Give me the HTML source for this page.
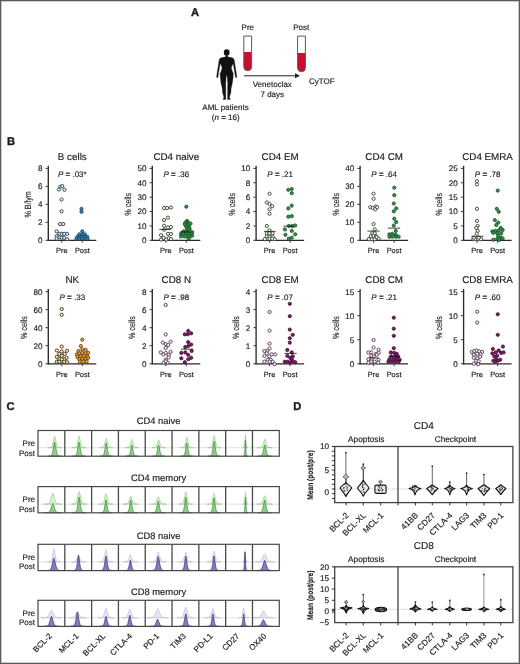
<!DOCTYPE html>
<html><head><meta charset="utf-8"><style>
html,body{margin:0;padding:0;background:#fff;}
body{width:520px;height:664px;overflow:hidden;}
svg{display:block;will-change:transform;font-family:"Liberation Sans", sans-serif;}
text{stroke:#1a1a1a;stroke-width:0.15px;text-rendering:geometricPrecision;}
</style></head><body>
<svg width="520" height="664" viewBox="0 0 520 664">
<rect x="0" y="0" width="520" height="664" fill="#fff"/>
<text x="191.00" y="16.30" font-size="11.2" text-anchor="start" font-weight="bold" font-style="normal" fill="#1a1a1a" style="stroke-width:0.35px">A</text>
<path d="M227.80,55.40 L227.90,57.00 L231.50,57.60 L233.50,58.40 L234.30,60.30 L235.00,65.00 L235.90,70.50 L236.60,75.20 L236.80,77.30 L236.00,78.00 L235.30,76.20 L234.60,71.50 L233.70,66.50 L233.20,63.40 L232.50,64.80 L231.30,67.50 L231.90,70.30 L233.20,73.30 L233.20,76.50 L232.30,83.50 L231.10,88.50 L230.90,92.50 L229.50,97.00 L230.30,99.40 L227.50,99.60 L227.60,97.00 L227.60,90.00 L227.70,84.00 L227.30,77.50 L226.70,74.80 L226.70,74.80 L226.10,77.50 L225.70,84.00 L225.80,90.00 L225.80,97.00 L225.90,99.60 L223.10,99.40 L223.90,97.00 L222.50,92.50 L222.30,88.50 L221.10,83.50 L220.20,76.50 L220.20,73.30 L221.50,70.30 L222.10,67.50 L220.90,64.80 L220.20,63.40 L219.70,66.50 L218.80,71.50 L218.10,76.20 L217.40,78.00 L216.60,77.30 L216.80,75.20 L217.50,70.50 L218.40,65.00 L219.10,60.30 L219.90,58.40 L221.90,57.60 L225.50,57.00 L225.60,55.40 Z" fill="#111" stroke="#111" stroke-width="0.3" stroke-linejoin="round"/>
<ellipse cx="226.7" cy="52.5" rx="2.85" ry="3.25" fill="#111"/>
<path d="M243.8,52 L251.60000000000002,52 L251.60000000000002,66.8 A3.9,3.9 0 0 1 243.8,66.8 Z" fill="#c8102e"/>
<path d="M243.8,36.1 L243.8,66.8 A3.9,3.9 0 0 0 251.60000000000002,66.8 L251.60000000000002,36.1 Z" fill="none" stroke="#5a5a5a" stroke-width="1"/>
<path d="M297.6,53 L305.40000000000003,53 L305.40000000000003,67.8 A3.9,3.9 0 0 1 297.6,67.8 Z" fill="#c8102e"/>
<path d="M297.6,36.1 L297.6,67.8 A3.9,3.9 0 0 0 305.40000000000003,67.8 L305.40000000000003,36.1 Z" fill="none" stroke="#5a5a5a" stroke-width="1"/>
<text x="247.80" y="30.20" font-size="8.0" text-anchor="middle" font-weight="normal" font-style="normal" fill="#1a1a1a" >Pre</text>
<text x="301.20" y="30.20" font-size="8.0" text-anchor="middle" font-weight="normal" font-style="normal" fill="#1a1a1a" >Post</text>
<line x1="244.00" y1="75.80" x2="297.00" y2="75.80" stroke="#222" stroke-width="1" />
<path d="M300,75.8 L295,73.3 L295,78.3 Z" fill="#222"/>
<text x="272.30" y="86.60" font-size="8.0" text-anchor="middle" font-weight="normal" font-style="normal" fill="#1a1a1a" >Venetoclax</text>
<text x="272.30" y="96.50" font-size="8.0" text-anchor="middle" font-weight="normal" font-style="normal" fill="#1a1a1a" >7 days</text>
<text x="309.00" y="83.50" font-size="8.0" text-anchor="start" font-weight="normal" font-style="normal" fill="#1a1a1a" >CyTOF</text>
<text x="225.50" y="109.80" font-size="8.0" text-anchor="middle" font-weight="normal" font-style="normal" fill="#1a1a1a" >AML patients</text>
<text x="225.7" y="119.9" font-size="8.0" text-anchor="middle" fill="#1a1a1a">(<tspan font-style="italic">n</tspan> = 16)</text>
<text x="6.90" y="144.50" font-size="11.2" text-anchor="start" font-weight="bold" font-style="normal" fill="#1a1a1a" style="stroke-width:0.35px">B</text>
<text x="72.30" y="159.70" font-size="9.8" text-anchor="middle" font-weight="normal" font-style="normal" fill="#1a1a1a" >B cells</text>
<line x1="48.30" y1="165.80" x2="48.30" y2="240.90" stroke="#2a2a2a" stroke-width="1.35" />
<line x1="47.70" y1="240.30" x2="96.30" y2="240.30" stroke="#2a2a2a" stroke-width="1.25" />
<line x1="45.50" y1="240.30" x2="48.30" y2="240.30" stroke="#2a2a2a" stroke-width="0.9" />
<text x="42.50" y="243.20" font-size="8.1" text-anchor="end" font-weight="normal" font-style="normal" fill="#222" >0</text>
<line x1="45.50" y1="222.33" x2="48.30" y2="222.33" stroke="#2a2a2a" stroke-width="0.9" />
<text x="42.50" y="225.23" font-size="8.1" text-anchor="end" font-weight="normal" font-style="normal" fill="#222" >2</text>
<line x1="45.50" y1="204.35" x2="48.30" y2="204.35" stroke="#2a2a2a" stroke-width="0.9" />
<text x="42.50" y="207.25" font-size="8.1" text-anchor="end" font-weight="normal" font-style="normal" fill="#222" >4</text>
<line x1="45.50" y1="186.38" x2="48.30" y2="186.38" stroke="#2a2a2a" stroke-width="0.9" />
<text x="42.50" y="189.28" font-size="8.1" text-anchor="end" font-weight="normal" font-style="normal" fill="#222" >6</text>
<line x1="45.50" y1="168.40" x2="48.30" y2="168.40" stroke="#2a2a2a" stroke-width="0.9" />
<text x="42.50" y="171.30" font-size="8.1" text-anchor="end" font-weight="normal" font-style="normal" fill="#222" >8</text>
<line x1="61.80" y1="240.30" x2="61.80" y2="242.80" stroke="#2a2a2a" stroke-width="0.9" />
<line x1="82.30" y1="240.30" x2="82.30" y2="242.80" stroke="#2a2a2a" stroke-width="0.9" />
<text x="61.80" y="253.30" font-size="7.4" text-anchor="middle" font-weight="normal" font-style="normal" fill="#1a1a1a" >Pre</text>
<text x="82.30" y="253.30" font-size="7.4" text-anchor="middle" font-weight="normal" font-style="normal" fill="#1a1a1a" >Post</text>
<text transform="translate(31.00,204.35) rotate(-90) scale(0.8,1)" font-size="9" text-anchor="middle" fill="#222">% B/lym</text>
<text x="72.30" y="177.20" font-size="8" text-anchor="middle" fill="#222"><tspan font-style="italic">P</tspan> <tspan font-weight="bold">=</tspan> .03*</text>
<circle cx="60.27" cy="186.85" r="1.6" fill="#e6f2f8" stroke="#2e4656" stroke-width="0.95"/>
<circle cx="62.23" cy="186.07" r="1.6" fill="#e6f2f8" stroke="#2e4656" stroke-width="0.95"/>
<circle cx="59.00" cy="189.49" r="1.6" fill="#e6f2f8" stroke="#2e4656" stroke-width="0.95"/>
<circle cx="64.48" cy="189.78" r="1.6" fill="#e6f2f8" stroke="#2e4656" stroke-width="0.95"/>
<circle cx="61.55" cy="199.57" r="1.6" fill="#e6f2f8" stroke="#2e4656" stroke-width="0.95"/>
<circle cx="61.55" cy="211.31" r="1.6" fill="#e6f2f8" stroke="#2e4656" stroke-width="0.95"/>
<circle cx="60.08" cy="224.03" r="1.6" fill="#e6f2f8" stroke="#2e4656" stroke-width="0.95"/>
<circle cx="63.21" cy="224.03" r="1.6" fill="#e6f2f8" stroke="#2e4656" stroke-width="0.95"/>
<circle cx="56.65" cy="231.37" r="1.6" fill="#e6f2f8" stroke="#2e4656" stroke-width="0.95"/>
<circle cx="59.30" cy="233.82" r="1.6" fill="#e6f2f8" stroke="#2e4656" stroke-width="0.95"/>
<circle cx="61.74" cy="233.82" r="1.6" fill="#e6f2f8" stroke="#2e4656" stroke-width="0.95"/>
<circle cx="64.19" cy="233.82" r="1.6" fill="#e6f2f8" stroke="#2e4656" stroke-width="0.95"/>
<circle cx="67.12" cy="233.82" r="1.6" fill="#e6f2f8" stroke="#2e4656" stroke-width="0.95"/>
<circle cx="56.65" cy="236.26" r="1.6" fill="#e6f2f8" stroke="#2e4656" stroke-width="0.95"/>
<circle cx="59.30" cy="237.24" r="1.6" fill="#e6f2f8" stroke="#2e4656" stroke-width="0.95"/>
<circle cx="61.74" cy="237.73" r="1.6" fill="#e6f2f8" stroke="#2e4656" stroke-width="0.95"/>
<circle cx="64.19" cy="237.73" r="1.6" fill="#e6f2f8" stroke="#2e4656" stroke-width="0.95"/>
<circle cx="67.12" cy="239.20" r="1.6" fill="#e6f2f8" stroke="#2e4656" stroke-width="0.95"/>
<circle cx="56.65" cy="238.71" r="1.6" fill="#e6f2f8" stroke="#2e4656" stroke-width="0.95"/>
<circle cx="81.51" cy="208.86" r="1.6" fill="#2b8cb8" stroke="#1d4258" stroke-width="0.85"/>
<circle cx="81.51" cy="211.80" r="1.6" fill="#2b8cb8" stroke="#1d4258" stroke-width="0.85"/>
<circle cx="82.29" cy="231.37" r="1.6" fill="#2b8cb8" stroke="#1d4258" stroke-width="0.85"/>
<circle cx="79.35" cy="234.31" r="1.6" fill="#2b8cb8" stroke="#1d4258" stroke-width="0.85"/>
<circle cx="82.29" cy="234.31" r="1.6" fill="#2b8cb8" stroke="#1d4258" stroke-width="0.85"/>
<circle cx="84.74" cy="234.31" r="1.6" fill="#2b8cb8" stroke="#1d4258" stroke-width="0.85"/>
<circle cx="77.40" cy="236.75" r="1.6" fill="#2b8cb8" stroke="#1d4258" stroke-width="0.85"/>
<circle cx="79.84" cy="236.75" r="1.6" fill="#2b8cb8" stroke="#1d4258" stroke-width="0.85"/>
<circle cx="82.29" cy="236.75" r="1.6" fill="#2b8cb8" stroke="#1d4258" stroke-width="0.85"/>
<circle cx="84.74" cy="236.75" r="1.6" fill="#2b8cb8" stroke="#1d4258" stroke-width="0.85"/>
<circle cx="87.18" cy="236.75" r="1.6" fill="#2b8cb8" stroke="#1d4258" stroke-width="0.85"/>
<circle cx="76.42" cy="238.71" r="1.6" fill="#2b8cb8" stroke="#1d4258" stroke-width="0.85"/>
<circle cx="79.35" cy="238.71" r="1.6" fill="#2b8cb8" stroke="#1d4258" stroke-width="0.85"/>
<circle cx="82.29" cy="238.71" r="1.6" fill="#2b8cb8" stroke="#1d4258" stroke-width="0.85"/>
<circle cx="85.23" cy="238.71" r="1.6" fill="#2b8cb8" stroke="#1d4258" stroke-width="0.85"/>
<circle cx="87.67" cy="238.71" r="1.6" fill="#2b8cb8" stroke="#1d4258" stroke-width="0.85"/>
<text x="176.30" y="159.70" font-size="9.8" text-anchor="middle" font-weight="normal" font-style="normal" fill="#1a1a1a" >CD4 naive</text>
<line x1="152.30" y1="165.80" x2="152.30" y2="240.90" stroke="#2a2a2a" stroke-width="1.35" />
<line x1="151.70" y1="240.30" x2="200.30" y2="240.30" stroke="#2a2a2a" stroke-width="1.25" />
<line x1="149.50" y1="240.30" x2="152.30" y2="240.30" stroke="#2a2a2a" stroke-width="0.9" />
<text x="146.50" y="243.20" font-size="8.1" text-anchor="end" font-weight="normal" font-style="normal" fill="#222" >0</text>
<line x1="149.50" y1="225.92" x2="152.30" y2="225.92" stroke="#2a2a2a" stroke-width="0.9" />
<text x="146.50" y="228.82" font-size="8.1" text-anchor="end" font-weight="normal" font-style="normal" fill="#222" >10</text>
<line x1="149.50" y1="211.54" x2="152.30" y2="211.54" stroke="#2a2a2a" stroke-width="0.9" />
<text x="146.50" y="214.44" font-size="8.1" text-anchor="end" font-weight="normal" font-style="normal" fill="#222" >20</text>
<line x1="149.50" y1="197.16" x2="152.30" y2="197.16" stroke="#2a2a2a" stroke-width="0.9" />
<text x="146.50" y="200.06" font-size="8.1" text-anchor="end" font-weight="normal" font-style="normal" fill="#222" >30</text>
<line x1="149.50" y1="182.78" x2="152.30" y2="182.78" stroke="#2a2a2a" stroke-width="0.9" />
<text x="146.50" y="185.68" font-size="8.1" text-anchor="end" font-weight="normal" font-style="normal" fill="#222" >40</text>
<line x1="149.50" y1="168.40" x2="152.30" y2="168.40" stroke="#2a2a2a" stroke-width="0.9" />
<text x="146.50" y="171.30" font-size="8.1" text-anchor="end" font-weight="normal" font-style="normal" fill="#222" >50</text>
<line x1="165.80" y1="240.30" x2="165.80" y2="242.80" stroke="#2a2a2a" stroke-width="0.9" />
<line x1="186.30" y1="240.30" x2="186.30" y2="242.80" stroke="#2a2a2a" stroke-width="0.9" />
<text x="165.80" y="253.30" font-size="7.4" text-anchor="middle" font-weight="normal" font-style="normal" fill="#1a1a1a" >Pre</text>
<text x="186.30" y="253.30" font-size="7.4" text-anchor="middle" font-weight="normal" font-style="normal" fill="#1a1a1a" >Post</text>
<text transform="translate(130.70,204.35) rotate(-90) scale(0.8,1)" font-size="9" text-anchor="middle" fill="#222">% cells</text>
<text x="176.30" y="177.20" font-size="8" text-anchor="middle" fill="#222"><tspan font-style="italic">P</tspan> <tspan font-weight="bold">=</tspan> .36</text>
<circle cx="164.08" cy="207.98" r="1.6" fill="#ffffff" stroke="#384a34" stroke-width="0.95"/>
<circle cx="167.11" cy="207.98" r="1.6" fill="#ffffff" stroke="#384a34" stroke-width="0.95"/>
<circle cx="171.00" cy="207.54" r="1.6" fill="#ffffff" stroke="#384a34" stroke-width="0.95"/>
<circle cx="164.08" cy="220.09" r="1.6" fill="#ffffff" stroke="#384a34" stroke-width="0.95"/>
<circle cx="167.98" cy="217.66" r="1.6" fill="#ffffff" stroke="#384a34" stroke-width="0.95"/>
<circle cx="164.08" cy="225.71" r="1.6" fill="#ffffff" stroke="#384a34" stroke-width="0.95"/>
<circle cx="164.08" cy="229.60" r="1.6" fill="#ffffff" stroke="#384a34" stroke-width="0.95"/>
<circle cx="167.98" cy="227.44" r="1.6" fill="#ffffff" stroke="#384a34" stroke-width="0.95"/>
<circle cx="171.00" cy="227.01" r="1.6" fill="#ffffff" stroke="#384a34" stroke-width="0.95"/>
<circle cx="167.98" cy="233.93" r="1.6" fill="#ffffff" stroke="#384a34" stroke-width="0.95"/>
<circle cx="171.00" cy="233.93" r="1.6" fill="#ffffff" stroke="#384a34" stroke-width="0.95"/>
<circle cx="161.06" cy="235.22" r="1.6" fill="#ffffff" stroke="#384a34" stroke-width="0.95"/>
<circle cx="161.06" cy="239.55" r="1.6" fill="#ffffff" stroke="#384a34" stroke-width="0.95"/>
<circle cx="163.65" cy="237.82" r="1.6" fill="#ffffff" stroke="#384a34" stroke-width="0.95"/>
<circle cx="166.25" cy="239.55" r="1.6" fill="#ffffff" stroke="#384a34" stroke-width="0.95"/>
<circle cx="168.84" cy="238.25" r="1.6" fill="#ffffff" stroke="#384a34" stroke-width="0.95"/>
<circle cx="171.00" cy="239.12" r="1.6" fill="#ffffff" stroke="#384a34" stroke-width="0.95"/>
<circle cx="186.31" cy="206.68" r="1.6" fill="#2f9a4a" stroke="#1c4a28" stroke-width="0.85"/>
<circle cx="187.01" cy="220.95" r="1.6" fill="#2f9a4a" stroke="#1c4a28" stroke-width="0.85"/>
<circle cx="185.28" cy="222.68" r="1.6" fill="#2f9a4a" stroke="#1c4a28" stroke-width="0.85"/>
<circle cx="188.30" cy="222.68" r="1.6" fill="#2f9a4a" stroke="#1c4a28" stroke-width="0.85"/>
<circle cx="184.84" cy="224.41" r="1.6" fill="#2f9a4a" stroke="#1c4a28" stroke-width="0.85"/>
<circle cx="187.87" cy="224.41" r="1.6" fill="#2f9a4a" stroke="#1c4a28" stroke-width="0.85"/>
<circle cx="190.47" cy="223.55" r="1.6" fill="#2f9a4a" stroke="#1c4a28" stroke-width="0.85"/>
<circle cx="186.14" cy="226.57" r="1.6" fill="#2f9a4a" stroke="#1c4a28" stroke-width="0.85"/>
<circle cx="189.17" cy="226.57" r="1.6" fill="#2f9a4a" stroke="#1c4a28" stroke-width="0.85"/>
<circle cx="187.01" cy="228.74" r="1.6" fill="#2f9a4a" stroke="#1c4a28" stroke-width="0.85"/>
<circle cx="189.60" cy="228.74" r="1.6" fill="#2f9a4a" stroke="#1c4a28" stroke-width="0.85"/>
<circle cx="183.55" cy="231.33" r="1.6" fill="#2f9a4a" stroke="#1c4a28" stroke-width="0.85"/>
<circle cx="186.14" cy="231.33" r="1.6" fill="#2f9a4a" stroke="#1c4a28" stroke-width="0.85"/>
<circle cx="189.60" cy="231.33" r="1.6" fill="#2f9a4a" stroke="#1c4a28" stroke-width="0.85"/>
<circle cx="192.20" cy="232.20" r="1.6" fill="#2f9a4a" stroke="#1c4a28" stroke-width="0.85"/>
<circle cx="180.95" cy="233.93" r="1.6" fill="#2f9a4a" stroke="#1c4a28" stroke-width="0.85"/>
<circle cx="183.55" cy="233.93" r="1.6" fill="#2f9a4a" stroke="#1c4a28" stroke-width="0.85"/>
<circle cx="186.14" cy="233.93" r="1.6" fill="#2f9a4a" stroke="#1c4a28" stroke-width="0.85"/>
<circle cx="188.74" cy="233.93" r="1.6" fill="#2f9a4a" stroke="#1c4a28" stroke-width="0.85"/>
<circle cx="191.33" cy="233.93" r="1.6" fill="#2f9a4a" stroke="#1c4a28" stroke-width="0.85"/>
<circle cx="180.95" cy="236.52" r="1.6" fill="#2f9a4a" stroke="#1c4a28" stroke-width="0.85"/>
<circle cx="184.41" cy="236.52" r="1.6" fill="#2f9a4a" stroke="#1c4a28" stroke-width="0.85"/>
<circle cx="187.01" cy="236.52" r="1.6" fill="#2f9a4a" stroke="#1c4a28" stroke-width="0.85"/>
<circle cx="189.60" cy="236.52" r="1.6" fill="#2f9a4a" stroke="#1c4a28" stroke-width="0.85"/>
<circle cx="192.20" cy="235.66" r="1.6" fill="#2f9a4a" stroke="#1c4a28" stroke-width="0.85"/>
<circle cx="188.74" cy="238.69" r="1.6" fill="#2f9a4a" stroke="#1c4a28" stroke-width="0.85"/>
<line x1="159.33" y1="229.43" x2="171.00" y2="229.43" stroke="#111" stroke-width="0.8" />
<line x1="180.09" y1="231.76" x2="189.60" y2="231.76" stroke="#111" stroke-width="0.8" />
<text x="280.10" y="159.70" font-size="9.8" text-anchor="middle" font-weight="normal" font-style="normal" fill="#1a1a1a" >CD4 EM</text>
<line x1="256.10" y1="165.80" x2="256.10" y2="240.90" stroke="#2a2a2a" stroke-width="1.35" />
<line x1="255.50" y1="240.30" x2="304.10" y2="240.30" stroke="#2a2a2a" stroke-width="1.25" />
<line x1="253.30" y1="240.30" x2="256.10" y2="240.30" stroke="#2a2a2a" stroke-width="0.9" />
<text x="250.30" y="243.20" font-size="8.1" text-anchor="end" font-weight="normal" font-style="normal" fill="#222" >0</text>
<line x1="253.30" y1="225.92" x2="256.10" y2="225.92" stroke="#2a2a2a" stroke-width="0.9" />
<text x="250.30" y="228.82" font-size="8.1" text-anchor="end" font-weight="normal" font-style="normal" fill="#222" >2</text>
<line x1="253.30" y1="211.54" x2="256.10" y2="211.54" stroke="#2a2a2a" stroke-width="0.9" />
<text x="250.30" y="214.44" font-size="8.1" text-anchor="end" font-weight="normal" font-style="normal" fill="#222" >4</text>
<line x1="253.30" y1="197.16" x2="256.10" y2="197.16" stroke="#2a2a2a" stroke-width="0.9" />
<text x="250.30" y="200.06" font-size="8.1" text-anchor="end" font-weight="normal" font-style="normal" fill="#222" >6</text>
<line x1="253.30" y1="182.78" x2="256.10" y2="182.78" stroke="#2a2a2a" stroke-width="0.9" />
<text x="250.30" y="185.68" font-size="8.1" text-anchor="end" font-weight="normal" font-style="normal" fill="#222" >8</text>
<line x1="253.30" y1="168.40" x2="256.10" y2="168.40" stroke="#2a2a2a" stroke-width="0.9" />
<text x="250.30" y="171.30" font-size="8.1" text-anchor="end" font-weight="normal" font-style="normal" fill="#222" >10</text>
<line x1="269.60" y1="240.30" x2="269.60" y2="242.80" stroke="#2a2a2a" stroke-width="0.9" />
<line x1="290.10" y1="240.30" x2="290.10" y2="242.80" stroke="#2a2a2a" stroke-width="0.9" />
<text x="269.60" y="253.30" font-size="7.4" text-anchor="middle" font-weight="normal" font-style="normal" fill="#1a1a1a" >Pre</text>
<text x="290.10" y="253.30" font-size="7.4" text-anchor="middle" font-weight="normal" font-style="normal" fill="#1a1a1a" >Post</text>
<text transform="translate(234.50,204.35) rotate(-90) scale(0.8,1)" font-size="9" text-anchor="middle" fill="#222">% cells</text>
<text x="280.10" y="177.20" font-size="8" text-anchor="middle" fill="#222"><tspan font-style="italic">P</tspan> <tspan font-weight="bold">=</tspan> .21</text>
<circle cx="269.55" cy="193.70" r="1.6" fill="#ffffff" stroke="#384a34" stroke-width="0.95"/>
<circle cx="266.81" cy="202.50" r="1.6" fill="#ffffff" stroke="#384a34" stroke-width="0.95"/>
<circle cx="269.55" cy="203.97" r="1.6" fill="#ffffff" stroke="#384a34" stroke-width="0.95"/>
<circle cx="272.19" cy="206.22" r="1.6" fill="#ffffff" stroke="#384a34" stroke-width="0.95"/>
<circle cx="269.55" cy="209.35" r="1.6" fill="#ffffff" stroke="#384a34" stroke-width="0.95"/>
<circle cx="269.55" cy="213.76" r="1.6" fill="#ffffff" stroke="#384a34" stroke-width="0.95"/>
<circle cx="266.81" cy="225.99" r="1.6" fill="#ffffff" stroke="#384a34" stroke-width="0.95"/>
<circle cx="269.55" cy="230.39" r="1.6" fill="#ffffff" stroke="#384a34" stroke-width="0.95"/>
<circle cx="266.81" cy="233.33" r="1.6" fill="#ffffff" stroke="#384a34" stroke-width="0.95"/>
<circle cx="269.55" cy="233.33" r="1.6" fill="#ffffff" stroke="#384a34" stroke-width="0.95"/>
<circle cx="272.68" cy="233.33" r="1.6" fill="#ffffff" stroke="#384a34" stroke-width="0.95"/>
<circle cx="266.81" cy="236.26" r="1.6" fill="#ffffff" stroke="#384a34" stroke-width="0.95"/>
<circle cx="269.55" cy="236.75" r="1.6" fill="#ffffff" stroke="#384a34" stroke-width="0.95"/>
<circle cx="272.68" cy="236.75" r="1.6" fill="#ffffff" stroke="#384a34" stroke-width="0.95"/>
<circle cx="264.85" cy="239.20" r="1.6" fill="#ffffff" stroke="#384a34" stroke-width="0.95"/>
<circle cx="269.55" cy="238.71" r="1.6" fill="#ffffff" stroke="#384a34" stroke-width="0.95"/>
<circle cx="274.63" cy="239.20" r="1.6" fill="#ffffff" stroke="#384a34" stroke-width="0.95"/>
<circle cx="272.19" cy="238.71" r="1.6" fill="#ffffff" stroke="#384a34" stroke-width="0.95"/>
<circle cx="288.33" cy="189.78" r="1.6" fill="#2f9a4a" stroke="#1c4a28" stroke-width="0.85"/>
<circle cx="291.76" cy="189.00" r="1.6" fill="#2f9a4a" stroke="#1c4a28" stroke-width="0.85"/>
<circle cx="291.76" cy="193.21" r="1.6" fill="#2f9a4a" stroke="#1c4a28" stroke-width="0.85"/>
<circle cx="288.33" cy="208.38" r="1.6" fill="#2f9a4a" stroke="#1c4a28" stroke-width="0.85"/>
<circle cx="291.76" cy="205.64" r="1.6" fill="#2f9a4a" stroke="#1c4a28" stroke-width="0.85"/>
<circle cx="288.33" cy="216.69" r="1.6" fill="#2f9a4a" stroke="#1c4a28" stroke-width="0.85"/>
<circle cx="291.76" cy="216.20" r="1.6" fill="#2f9a4a" stroke="#1c4a28" stroke-width="0.85"/>
<circle cx="288.82" cy="225.99" r="1.6" fill="#2f9a4a" stroke="#1c4a28" stroke-width="0.85"/>
<circle cx="292.25" cy="225.99" r="1.6" fill="#2f9a4a" stroke="#1c4a28" stroke-width="0.85"/>
<circle cx="295.18" cy="225.50" r="1.6" fill="#2f9a4a" stroke="#1c4a28" stroke-width="0.85"/>
<circle cx="284.91" cy="229.41" r="1.6" fill="#2f9a4a" stroke="#1c4a28" stroke-width="0.85"/>
<circle cx="291.76" cy="230.88" r="1.6" fill="#2f9a4a" stroke="#1c4a28" stroke-width="0.85"/>
<circle cx="285.40" cy="234.79" r="1.6" fill="#2f9a4a" stroke="#1c4a28" stroke-width="0.85"/>
<circle cx="295.18" cy="234.31" r="1.6" fill="#2f9a4a" stroke="#1c4a28" stroke-width="0.85"/>
<circle cx="288.82" cy="238.71" r="1.6" fill="#2f9a4a" stroke="#1c4a28" stroke-width="0.85"/>
<circle cx="291.76" cy="237.73" r="1.6" fill="#2f9a4a" stroke="#1c4a28" stroke-width="0.85"/>
<line x1="263.87" y1="231.37" x2="275.61" y2="231.37" stroke="#111" stroke-width="0.8" />
<line x1="283.44" y1="226.18" x2="294.20" y2="226.18" stroke="#111" stroke-width="0.8" />
<text x="384.10" y="159.70" font-size="9.8" text-anchor="middle" font-weight="normal" font-style="normal" fill="#1a1a1a" >CD4 CM</text>
<line x1="360.10" y1="165.80" x2="360.10" y2="240.90" stroke="#2a2a2a" stroke-width="1.35" />
<line x1="359.50" y1="240.30" x2="408.10" y2="240.30" stroke="#2a2a2a" stroke-width="1.25" />
<line x1="357.30" y1="240.30" x2="360.10" y2="240.30" stroke="#2a2a2a" stroke-width="0.9" />
<text x="354.30" y="243.20" font-size="8.1" text-anchor="end" font-weight="normal" font-style="normal" fill="#222" >0</text>
<line x1="357.30" y1="222.33" x2="360.10" y2="222.33" stroke="#2a2a2a" stroke-width="0.9" />
<text x="354.30" y="225.23" font-size="8.1" text-anchor="end" font-weight="normal" font-style="normal" fill="#222" >10</text>
<line x1="357.30" y1="204.35" x2="360.10" y2="204.35" stroke="#2a2a2a" stroke-width="0.9" />
<text x="354.30" y="207.25" font-size="8.1" text-anchor="end" font-weight="normal" font-style="normal" fill="#222" >20</text>
<line x1="357.30" y1="186.38" x2="360.10" y2="186.38" stroke="#2a2a2a" stroke-width="0.9" />
<text x="354.30" y="189.28" font-size="8.1" text-anchor="end" font-weight="normal" font-style="normal" fill="#222" >30</text>
<line x1="357.30" y1="168.40" x2="360.10" y2="168.40" stroke="#2a2a2a" stroke-width="0.9" />
<text x="354.30" y="171.30" font-size="8.1" text-anchor="end" font-weight="normal" font-style="normal" fill="#222" >40</text>
<line x1="373.60" y1="240.30" x2="373.60" y2="242.80" stroke="#2a2a2a" stroke-width="0.9" />
<line x1="394.10" y1="240.30" x2="394.10" y2="242.80" stroke="#2a2a2a" stroke-width="0.9" />
<text x="373.60" y="253.30" font-size="7.4" text-anchor="middle" font-weight="normal" font-style="normal" fill="#1a1a1a" >Pre</text>
<text x="394.10" y="253.30" font-size="7.4" text-anchor="middle" font-weight="normal" font-style="normal" fill="#1a1a1a" >Post</text>
<text transform="translate(338.50,204.35) rotate(-90) scale(0.8,1)" font-size="9" text-anchor="middle" fill="#222">% cells</text>
<text x="384.10" y="177.20" font-size="8" text-anchor="middle" fill="#222"><tspan font-style="italic">P</tspan> <tspan font-weight="bold">=</tspan> .64</text>
<circle cx="373.55" cy="193.70" r="1.6" fill="#ffffff" stroke="#384a34" stroke-width="0.95"/>
<circle cx="373.55" cy="198.79" r="1.6" fill="#ffffff" stroke="#384a34" stroke-width="0.95"/>
<circle cx="370.32" cy="207.20" r="1.6" fill="#ffffff" stroke="#384a34" stroke-width="0.95"/>
<circle cx="372.76" cy="207.89" r="1.6" fill="#ffffff" stroke="#384a34" stroke-width="0.95"/>
<circle cx="375.70" cy="206.61" r="1.6" fill="#ffffff" stroke="#384a34" stroke-width="0.95"/>
<circle cx="377.17" cy="207.20" r="1.6" fill="#ffffff" stroke="#384a34" stroke-width="0.95"/>
<circle cx="375.21" cy="209.35" r="1.6" fill="#ffffff" stroke="#384a34" stroke-width="0.95"/>
<circle cx="373.55" cy="224.03" r="1.6" fill="#ffffff" stroke="#384a34" stroke-width="0.95"/>
<circle cx="374.72" cy="229.41" r="1.6" fill="#ffffff" stroke="#384a34" stroke-width="0.95"/>
<circle cx="372.27" cy="233.33" r="1.6" fill="#ffffff" stroke="#384a34" stroke-width="0.95"/>
<circle cx="374.72" cy="233.33" r="1.6" fill="#ffffff" stroke="#384a34" stroke-width="0.95"/>
<circle cx="370.81" cy="236.26" r="1.6" fill="#ffffff" stroke="#384a34" stroke-width="0.95"/>
<circle cx="373.55" cy="235.77" r="1.6" fill="#ffffff" stroke="#384a34" stroke-width="0.95"/>
<circle cx="376.19" cy="236.26" r="1.6" fill="#ffffff" stroke="#384a34" stroke-width="0.95"/>
<circle cx="368.85" cy="239.20" r="1.6" fill="#ffffff" stroke="#384a34" stroke-width="0.95"/>
<circle cx="371.78" cy="239.20" r="1.6" fill="#ffffff" stroke="#384a34" stroke-width="0.95"/>
<circle cx="374.72" cy="239.20" r="1.6" fill="#ffffff" stroke="#384a34" stroke-width="0.95"/>
<circle cx="378.63" cy="238.71" r="1.6" fill="#ffffff" stroke="#384a34" stroke-width="0.95"/>
<circle cx="376.68" cy="237.24" r="1.6" fill="#ffffff" stroke="#384a34" stroke-width="0.95"/>
<circle cx="394.29" cy="187.63" r="1.6" fill="#2f9a4a" stroke="#1c4a28" stroke-width="0.85"/>
<circle cx="394.29" cy="195.17" r="1.6" fill="#2f9a4a" stroke="#1c4a28" stroke-width="0.85"/>
<circle cx="393.80" cy="203.48" r="1.6" fill="#2f9a4a" stroke="#1c4a28" stroke-width="0.85"/>
<circle cx="396.25" cy="208.38" r="1.6" fill="#2f9a4a" stroke="#1c4a28" stroke-width="0.85"/>
<circle cx="393.80" cy="211.31" r="1.6" fill="#2f9a4a" stroke="#1c4a28" stroke-width="0.85"/>
<circle cx="394.29" cy="218.65" r="1.6" fill="#2f9a4a" stroke="#1c4a28" stroke-width="0.85"/>
<circle cx="396.25" cy="222.07" r="1.6" fill="#2f9a4a" stroke="#1c4a28" stroke-width="0.85"/>
<circle cx="393.80" cy="225.50" r="1.6" fill="#2f9a4a" stroke="#1c4a28" stroke-width="0.85"/>
<circle cx="395.76" cy="230.88" r="1.6" fill="#2f9a4a" stroke="#1c4a28" stroke-width="0.85"/>
<circle cx="389.40" cy="234.31" r="1.6" fill="#2f9a4a" stroke="#1c4a28" stroke-width="0.85"/>
<circle cx="392.33" cy="233.82" r="1.6" fill="#2f9a4a" stroke="#1c4a28" stroke-width="0.85"/>
<circle cx="395.76" cy="234.79" r="1.6" fill="#2f9a4a" stroke="#1c4a28" stroke-width="0.85"/>
<circle cx="389.40" cy="236.75" r="1.6" fill="#2f9a4a" stroke="#1c4a28" stroke-width="0.85"/>
<circle cx="392.33" cy="236.75" r="1.6" fill="#2f9a4a" stroke="#1c4a28" stroke-width="0.85"/>
<circle cx="395.76" cy="236.75" r="1.6" fill="#2f9a4a" stroke="#1c4a28" stroke-width="0.85"/>
<circle cx="398.69" cy="236.75" r="1.6" fill="#2f9a4a" stroke="#1c4a28" stroke-width="0.85"/>
<line x1="367.38" y1="231.08" x2="379.61" y2="231.08" stroke="#111" stroke-width="0.8" />
<line x1="387.93" y1="228.14" x2="400.16" y2="228.14" stroke="#111" stroke-width="0.8" />
<text x="487.60" y="159.70" font-size="9.8" text-anchor="middle" font-weight="normal" font-style="normal" fill="#1a1a1a" >CD4 EMRA</text>
<line x1="463.60" y1="165.80" x2="463.60" y2="240.90" stroke="#2a2a2a" stroke-width="1.35" />
<line x1="463.00" y1="240.30" x2="511.60" y2="240.30" stroke="#2a2a2a" stroke-width="1.25" />
<line x1="460.80" y1="240.30" x2="463.60" y2="240.30" stroke="#2a2a2a" stroke-width="0.9" />
<text x="457.80" y="243.20" font-size="8.1" text-anchor="end" font-weight="normal" font-style="normal" fill="#222" >0</text>
<line x1="460.80" y1="225.92" x2="463.60" y2="225.92" stroke="#2a2a2a" stroke-width="0.9" />
<text x="457.80" y="228.82" font-size="8.1" text-anchor="end" font-weight="normal" font-style="normal" fill="#222" >5</text>
<line x1="460.80" y1="211.54" x2="463.60" y2="211.54" stroke="#2a2a2a" stroke-width="0.9" />
<text x="457.80" y="214.44" font-size="8.1" text-anchor="end" font-weight="normal" font-style="normal" fill="#222" >10</text>
<line x1="460.80" y1="197.16" x2="463.60" y2="197.16" stroke="#2a2a2a" stroke-width="0.9" />
<text x="457.80" y="200.06" font-size="8.1" text-anchor="end" font-weight="normal" font-style="normal" fill="#222" >15</text>
<line x1="460.80" y1="182.78" x2="463.60" y2="182.78" stroke="#2a2a2a" stroke-width="0.9" />
<text x="457.80" y="185.68" font-size="8.1" text-anchor="end" font-weight="normal" font-style="normal" fill="#222" >20</text>
<line x1="460.80" y1="168.40" x2="463.60" y2="168.40" stroke="#2a2a2a" stroke-width="0.9" />
<text x="457.80" y="171.30" font-size="8.1" text-anchor="end" font-weight="normal" font-style="normal" fill="#222" >25</text>
<line x1="477.10" y1="240.30" x2="477.10" y2="242.80" stroke="#2a2a2a" stroke-width="0.9" />
<line x1="497.60" y1="240.30" x2="497.60" y2="242.80" stroke="#2a2a2a" stroke-width="0.9" />
<text x="477.10" y="253.30" font-size="7.4" text-anchor="middle" font-weight="normal" font-style="normal" fill="#1a1a1a" >Pre</text>
<text x="497.60" y="253.30" font-size="7.4" text-anchor="middle" font-weight="normal" font-style="normal" fill="#1a1a1a" >Post</text>
<text transform="translate(442.00,204.35) rotate(-90) scale(0.8,1)" font-size="9" text-anchor="middle" fill="#222">% cells</text>
<text x="487.60" y="177.20" font-size="8" text-anchor="middle" fill="#222"><tspan font-style="italic">P</tspan> <tspan font-weight="bold">=</tspan> .78</text>
<circle cx="476.92" cy="181.17" r="1.6" fill="#ffffff" stroke="#384a34" stroke-width="0.95"/>
<circle cx="476.92" cy="184.40" r="1.6" fill="#ffffff" stroke="#384a34" stroke-width="0.95"/>
<circle cx="476.92" cy="208.86" r="1.6" fill="#ffffff" stroke="#384a34" stroke-width="0.95"/>
<circle cx="476.92" cy="220.90" r="1.6" fill="#ffffff" stroke="#384a34" stroke-width="0.95"/>
<circle cx="477.70" cy="225.99" r="1.6" fill="#ffffff" stroke="#384a34" stroke-width="0.95"/>
<circle cx="476.23" cy="227.95" r="1.6" fill="#ffffff" stroke="#384a34" stroke-width="0.95"/>
<circle cx="477.70" cy="230.88" r="1.6" fill="#ffffff" stroke="#384a34" stroke-width="0.95"/>
<circle cx="476.72" cy="233.62" r="1.6" fill="#ffffff" stroke="#384a34" stroke-width="0.95"/>
<circle cx="473.30" cy="239.20" r="1.6" fill="#ffffff" stroke="#384a34" stroke-width="0.95"/>
<circle cx="475.74" cy="239.20" r="1.6" fill="#ffffff" stroke="#384a34" stroke-width="0.95"/>
<circle cx="478.19" cy="239.20" r="1.6" fill="#ffffff" stroke="#384a34" stroke-width="0.95"/>
<circle cx="481.12" cy="239.20" r="1.6" fill="#ffffff" stroke="#384a34" stroke-width="0.95"/>
<circle cx="473.78" cy="237.73" r="1.6" fill="#ffffff" stroke="#384a34" stroke-width="0.95"/>
<circle cx="478.68" cy="237.73" r="1.6" fill="#ffffff" stroke="#384a34" stroke-width="0.95"/>
<circle cx="497.76" cy="190.57" r="1.6" fill="#2f9a4a" stroke="#1c4a28" stroke-width="0.85"/>
<circle cx="496.78" cy="208.86" r="1.6" fill="#2f9a4a" stroke="#1c4a28" stroke-width="0.85"/>
<circle cx="498.74" cy="211.80" r="1.6" fill="#2f9a4a" stroke="#1c4a28" stroke-width="0.85"/>
<circle cx="494.82" cy="220.12" r="1.6" fill="#2f9a4a" stroke="#1c4a28" stroke-width="0.85"/>
<circle cx="498.25" cy="222.56" r="1.6" fill="#2f9a4a" stroke="#1c4a28" stroke-width="0.85"/>
<circle cx="496.29" cy="225.01" r="1.6" fill="#2f9a4a" stroke="#1c4a28" stroke-width="0.85"/>
<circle cx="500.69" cy="227.95" r="1.6" fill="#2f9a4a" stroke="#1c4a28" stroke-width="0.85"/>
<circle cx="492.38" cy="231.37" r="1.6" fill="#2f9a4a" stroke="#1c4a28" stroke-width="0.85"/>
<circle cx="495.31" cy="230.88" r="1.6" fill="#2f9a4a" stroke="#1c4a28" stroke-width="0.85"/>
<circle cx="498.74" cy="230.39" r="1.6" fill="#2f9a4a" stroke="#1c4a28" stroke-width="0.85"/>
<circle cx="502.65" cy="229.90" r="1.6" fill="#2f9a4a" stroke="#1c4a28" stroke-width="0.85"/>
<circle cx="493.35" cy="232.84" r="1.6" fill="#2f9a4a" stroke="#1c4a28" stroke-width="0.85"/>
<circle cx="497.27" cy="233.33" r="1.6" fill="#2f9a4a" stroke="#1c4a28" stroke-width="0.85"/>
<circle cx="501.18" cy="233.33" r="1.6" fill="#2f9a4a" stroke="#1c4a28" stroke-width="0.85"/>
<circle cx="498.25" cy="235.77" r="1.6" fill="#2f9a4a" stroke="#1c4a28" stroke-width="0.85"/>
<circle cx="501.18" cy="237.73" r="1.6" fill="#2f9a4a" stroke="#1c4a28" stroke-width="0.85"/>
<circle cx="493.35" cy="239.69" r="1.6" fill="#2f9a4a" stroke="#1c4a28" stroke-width="0.85"/>
<circle cx="497.27" cy="238.71" r="1.6" fill="#2f9a4a" stroke="#1c4a28" stroke-width="0.85"/>
<circle cx="502.65" cy="238.51" r="1.6" fill="#2f9a4a" stroke="#1c4a28" stroke-width="0.85"/>
<circle cx="499.23" cy="239.88" r="1.6" fill="#2f9a4a" stroke="#1c4a28" stroke-width="0.85"/>
<line x1="471.34" y1="236.26" x2="483.57" y2="236.26" stroke="#111" stroke-width="0.8" />
<text x="72.30" y="283.15" font-size="9.8" text-anchor="middle" font-weight="normal" font-style="normal" fill="#1a1a1a" >NK</text>
<line x1="48.30" y1="289.00" x2="48.30" y2="364.35" stroke="#2a2a2a" stroke-width="1.35" />
<line x1="47.70" y1="363.75" x2="96.30" y2="363.75" stroke="#2a2a2a" stroke-width="1.25" />
<line x1="45.50" y1="363.75" x2="48.30" y2="363.75" stroke="#2a2a2a" stroke-width="0.9" />
<text x="42.50" y="366.65" font-size="8.1" text-anchor="end" font-weight="normal" font-style="normal" fill="#222" >0</text>
<line x1="45.50" y1="345.71" x2="48.30" y2="345.71" stroke="#2a2a2a" stroke-width="0.9" />
<text x="42.50" y="348.61" font-size="8.1" text-anchor="end" font-weight="normal" font-style="normal" fill="#222" >20</text>
<line x1="45.50" y1="327.68" x2="48.30" y2="327.68" stroke="#2a2a2a" stroke-width="0.9" />
<text x="42.50" y="330.57" font-size="8.1" text-anchor="end" font-weight="normal" font-style="normal" fill="#222" >40</text>
<line x1="45.50" y1="309.64" x2="48.30" y2="309.64" stroke="#2a2a2a" stroke-width="0.9" />
<text x="42.50" y="312.54" font-size="8.1" text-anchor="end" font-weight="normal" font-style="normal" fill="#222" >60</text>
<line x1="45.50" y1="291.60" x2="48.30" y2="291.60" stroke="#2a2a2a" stroke-width="0.9" />
<text x="42.50" y="294.50" font-size="8.1" text-anchor="end" font-weight="normal" font-style="normal" fill="#222" >80</text>
<line x1="61.80" y1="363.75" x2="61.80" y2="366.25" stroke="#2a2a2a" stroke-width="0.9" />
<line x1="82.30" y1="363.75" x2="82.30" y2="366.25" stroke="#2a2a2a" stroke-width="0.9" />
<text x="61.80" y="376.75" font-size="7.4" text-anchor="middle" font-weight="normal" font-style="normal" fill="#1a1a1a" >Pre</text>
<text x="82.30" y="376.75" font-size="7.4" text-anchor="middle" font-weight="normal" font-style="normal" fill="#1a1a1a" >Post</text>
<text transform="translate(26.70,327.68) rotate(-90) scale(0.8,1)" font-size="9" text-anchor="middle" fill="#222">% cells</text>
<text x="72.30" y="300.40" font-size="8" text-anchor="middle" fill="#222"><tspan font-style="italic">P</tspan> <tspan font-weight="bold">=</tspan> .33</text>
<circle cx="61.74" cy="309.07" r="1.6" fill="#fdf0c8" stroke="#4a3820" stroke-width="0.95"/>
<circle cx="61.74" cy="314.74" r="1.6" fill="#fdf0c8" stroke="#4a3820" stroke-width="0.95"/>
<circle cx="61.74" cy="346.54" r="1.6" fill="#fdf0c8" stroke="#4a3820" stroke-width="0.95"/>
<circle cx="56.85" cy="350.46" r="1.6" fill="#fdf0c8" stroke="#4a3820" stroke-width="0.95"/>
<circle cx="67.12" cy="350.75" r="1.6" fill="#fdf0c8" stroke="#4a3820" stroke-width="0.95"/>
<circle cx="61.74" cy="351.43" r="1.6" fill="#fdf0c8" stroke="#4a3820" stroke-width="0.95"/>
<circle cx="59.30" cy="353.88" r="1.6" fill="#fdf0c8" stroke="#4a3820" stroke-width="0.95"/>
<circle cx="64.68" cy="353.88" r="1.6" fill="#fdf0c8" stroke="#4a3820" stroke-width="0.95"/>
<circle cx="56.85" cy="356.82" r="1.6" fill="#fdf0c8" stroke="#4a3820" stroke-width="0.95"/>
<circle cx="61.74" cy="355.84" r="1.6" fill="#fdf0c8" stroke="#4a3820" stroke-width="0.95"/>
<circle cx="66.63" cy="357.79" r="1.6" fill="#fdf0c8" stroke="#4a3820" stroke-width="0.95"/>
<circle cx="59.30" cy="358.77" r="1.6" fill="#fdf0c8" stroke="#4a3820" stroke-width="0.95"/>
<circle cx="64.19" cy="359.26" r="1.6" fill="#fdf0c8" stroke="#4a3820" stroke-width="0.95"/>
<circle cx="56.85" cy="361.71" r="1.6" fill="#fdf0c8" stroke="#4a3820" stroke-width="0.95"/>
<circle cx="59.30" cy="361.71" r="1.6" fill="#fdf0c8" stroke="#4a3820" stroke-width="0.95"/>
<circle cx="61.74" cy="361.22" r="1.6" fill="#fdf0c8" stroke="#4a3820" stroke-width="0.95"/>
<circle cx="64.19" cy="361.71" r="1.6" fill="#fdf0c8" stroke="#4a3820" stroke-width="0.95"/>
<circle cx="67.12" cy="362.20" r="1.6" fill="#fdf0c8" stroke="#4a3820" stroke-width="0.95"/>
<circle cx="61.74" cy="359.26" r="1.6" fill="#fdf0c8" stroke="#4a3820" stroke-width="0.95"/>
<circle cx="82.29" cy="339.69" r="1.6" fill="#f2a530" stroke="#5a3a10" stroke-width="0.85"/>
<circle cx="80.82" cy="346.05" r="1.6" fill="#f2a530" stroke="#5a3a10" stroke-width="0.85"/>
<circle cx="78.38" cy="350.95" r="1.6" fill="#f2a530" stroke="#5a3a10" stroke-width="0.85"/>
<circle cx="82.29" cy="349.48" r="1.6" fill="#f2a530" stroke="#5a3a10" stroke-width="0.85"/>
<circle cx="85.71" cy="349.77" r="1.6" fill="#f2a530" stroke="#5a3a10" stroke-width="0.85"/>
<circle cx="76.91" cy="354.37" r="1.6" fill="#f2a530" stroke="#5a3a10" stroke-width="0.85"/>
<circle cx="79.35" cy="353.39" r="1.6" fill="#f2a530" stroke="#5a3a10" stroke-width="0.85"/>
<circle cx="82.29" cy="352.90" r="1.6" fill="#f2a530" stroke="#5a3a10" stroke-width="0.85"/>
<circle cx="85.23" cy="353.39" r="1.6" fill="#f2a530" stroke="#5a3a10" stroke-width="0.85"/>
<circle cx="88.16" cy="352.90" r="1.6" fill="#f2a530" stroke="#5a3a10" stroke-width="0.85"/>
<circle cx="77.40" cy="356.82" r="1.6" fill="#f2a530" stroke="#5a3a10" stroke-width="0.85"/>
<circle cx="80.33" cy="356.33" r="1.6" fill="#f2a530" stroke="#5a3a10" stroke-width="0.85"/>
<circle cx="83.76" cy="355.84" r="1.6" fill="#f2a530" stroke="#5a3a10" stroke-width="0.85"/>
<circle cx="87.18" cy="356.33" r="1.6" fill="#f2a530" stroke="#5a3a10" stroke-width="0.85"/>
<circle cx="79.35" cy="359.26" r="1.6" fill="#f2a530" stroke="#5a3a10" stroke-width="0.85"/>
<circle cx="82.29" cy="358.77" r="1.6" fill="#f2a530" stroke="#5a3a10" stroke-width="0.85"/>
<circle cx="85.71" cy="358.77" r="1.6" fill="#f2a530" stroke="#5a3a10" stroke-width="0.85"/>
<circle cx="88.16" cy="357.79" r="1.6" fill="#f2a530" stroke="#5a3a10" stroke-width="0.85"/>
<circle cx="79.84" cy="361.71" r="1.6" fill="#f2a530" stroke="#5a3a10" stroke-width="0.85"/>
<circle cx="83.27" cy="361.71" r="1.6" fill="#f2a530" stroke="#5a3a10" stroke-width="0.85"/>
<circle cx="86.69" cy="361.51" r="1.6" fill="#f2a530" stroke="#5a3a10" stroke-width="0.85"/>
<text x="176.30" y="283.15" font-size="9.8" text-anchor="middle" font-weight="normal" font-style="normal" fill="#1a1a1a" >CD8 N</text>
<line x1="152.30" y1="289.00" x2="152.30" y2="364.35" stroke="#2a2a2a" stroke-width="1.35" />
<line x1="151.70" y1="363.75" x2="200.30" y2="363.75" stroke="#2a2a2a" stroke-width="1.25" />
<line x1="149.50" y1="363.75" x2="152.30" y2="363.75" stroke="#2a2a2a" stroke-width="0.9" />
<text x="146.50" y="366.65" font-size="8.1" text-anchor="end" font-weight="normal" font-style="normal" fill="#222" >0</text>
<line x1="149.50" y1="345.71" x2="152.30" y2="345.71" stroke="#2a2a2a" stroke-width="0.9" />
<text x="146.50" y="348.61" font-size="8.1" text-anchor="end" font-weight="normal" font-style="normal" fill="#222" >2</text>
<line x1="149.50" y1="327.68" x2="152.30" y2="327.68" stroke="#2a2a2a" stroke-width="0.9" />
<text x="146.50" y="330.57" font-size="8.1" text-anchor="end" font-weight="normal" font-style="normal" fill="#222" >4</text>
<line x1="149.50" y1="309.64" x2="152.30" y2="309.64" stroke="#2a2a2a" stroke-width="0.9" />
<text x="146.50" y="312.54" font-size="8.1" text-anchor="end" font-weight="normal" font-style="normal" fill="#222" >6</text>
<line x1="149.50" y1="291.60" x2="152.30" y2="291.60" stroke="#2a2a2a" stroke-width="0.9" />
<text x="146.50" y="294.50" font-size="8.1" text-anchor="end" font-weight="normal" font-style="normal" fill="#222" >8</text>
<line x1="165.80" y1="363.75" x2="165.80" y2="366.25" stroke="#2a2a2a" stroke-width="0.9" />
<line x1="186.30" y1="363.75" x2="186.30" y2="366.25" stroke="#2a2a2a" stroke-width="0.9" />
<text x="165.80" y="376.75" font-size="7.4" text-anchor="middle" font-weight="normal" font-style="normal" fill="#1a1a1a" >Pre</text>
<text x="186.30" y="376.75" font-size="7.4" text-anchor="middle" font-weight="normal" font-style="normal" fill="#1a1a1a" >Post</text>
<text transform="translate(135.00,327.68) rotate(-90) scale(0.8,1)" font-size="9" text-anchor="middle" fill="#222">% cells</text>
<text x="176.30" y="300.40" font-size="8" text-anchor="middle" fill="#222"><tspan font-style="italic">P</tspan> <tspan font-weight="bold">=</tspan> .98</text>
<circle cx="165.72" cy="304.96" r="1.6" fill="#fbf4fa" stroke="#5a3e58" stroke-width="0.95"/>
<circle cx="165.72" cy="334.51" r="1.6" fill="#fbf4fa" stroke="#5a3e58" stroke-width="0.95"/>
<circle cx="162.78" cy="342.63" r="1.6" fill="#fbf4fa" stroke="#5a3e58" stroke-width="0.95"/>
<circle cx="165.72" cy="344.10" r="1.6" fill="#fbf4fa" stroke="#5a3e58" stroke-width="0.95"/>
<circle cx="170.61" cy="341.65" r="1.6" fill="#fbf4fa" stroke="#5a3e58" stroke-width="0.95"/>
<circle cx="168.17" cy="345.07" r="1.6" fill="#fbf4fa" stroke="#5a3e58" stroke-width="0.95"/>
<circle cx="165.72" cy="348.01" r="1.6" fill="#fbf4fa" stroke="#5a3e58" stroke-width="0.95"/>
<circle cx="160.83" cy="352.41" r="1.6" fill="#fbf4fa" stroke="#5a3e58" stroke-width="0.95"/>
<circle cx="163.27" cy="354.37" r="1.6" fill="#fbf4fa" stroke="#5a3e58" stroke-width="0.95"/>
<circle cx="165.72" cy="352.90" r="1.6" fill="#fbf4fa" stroke="#5a3e58" stroke-width="0.95"/>
<circle cx="170.61" cy="351.92" r="1.6" fill="#fbf4fa" stroke="#5a3e58" stroke-width="0.95"/>
<circle cx="168.66" cy="354.86" r="1.6" fill="#fbf4fa" stroke="#5a3e58" stroke-width="0.95"/>
<circle cx="168.66" cy="357.31" r="1.6" fill="#fbf4fa" stroke="#5a3e58" stroke-width="0.95"/>
<circle cx="165.72" cy="359.75" r="1.6" fill="#fbf4fa" stroke="#5a3e58" stroke-width="0.95"/>
<circle cx="163.76" cy="362.69" r="1.6" fill="#fbf4fa" stroke="#5a3e58" stroke-width="0.95"/>
<circle cx="167.68" cy="362.69" r="1.6" fill="#fbf4fa" stroke="#5a3e58" stroke-width="0.95"/>
<circle cx="165.72" cy="361.22" r="1.6" fill="#fbf4fa" stroke="#5a3e58" stroke-width="0.95"/>
<circle cx="188.23" cy="330.89" r="1.6" fill="#8a186a" stroke="#3a0f32" stroke-width="0.85"/>
<circle cx="184.80" cy="334.31" r="1.6" fill="#8a186a" stroke="#3a0f32" stroke-width="0.85"/>
<circle cx="187.74" cy="334.31" r="1.6" fill="#8a186a" stroke="#3a0f32" stroke-width="0.85"/>
<circle cx="191.16" cy="333.33" r="1.6" fill="#8a186a" stroke="#3a0f32" stroke-width="0.85"/>
<circle cx="188.23" cy="342.14" r="1.6" fill="#8a186a" stroke="#3a0f32" stroke-width="0.85"/>
<circle cx="191.16" cy="344.59" r="1.6" fill="#8a186a" stroke="#3a0f32" stroke-width="0.85"/>
<circle cx="185.29" cy="347.03" r="1.6" fill="#8a186a" stroke="#3a0f32" stroke-width="0.85"/>
<circle cx="188.23" cy="346.05" r="1.6" fill="#8a186a" stroke="#3a0f32" stroke-width="0.85"/>
<circle cx="191.65" cy="350.95" r="1.6" fill="#8a186a" stroke="#3a0f32" stroke-width="0.85"/>
<circle cx="181.38" cy="352.90" r="1.6" fill="#8a186a" stroke="#3a0f32" stroke-width="0.85"/>
<circle cx="185.29" cy="352.41" r="1.6" fill="#8a186a" stroke="#3a0f32" stroke-width="0.85"/>
<circle cx="188.23" cy="354.86" r="1.6" fill="#8a186a" stroke="#3a0f32" stroke-width="0.85"/>
<circle cx="181.38" cy="358.28" r="1.6" fill="#8a186a" stroke="#3a0f32" stroke-width="0.85"/>
<circle cx="188.23" cy="359.26" r="1.6" fill="#8a186a" stroke="#3a0f32" stroke-width="0.85"/>
<circle cx="191.16" cy="357.79" r="1.6" fill="#8a186a" stroke="#3a0f32" stroke-width="0.85"/>
<circle cx="184.80" cy="362.20" r="1.6" fill="#8a186a" stroke="#3a0f32" stroke-width="0.85"/>
<line x1="180.89" y1="349.18" x2="193.12" y2="349.18" stroke="#111" stroke-width="0.8" />
<text x="280.10" y="283.15" font-size="9.8" text-anchor="middle" font-weight="normal" font-style="normal" fill="#1a1a1a" >CD8 EM</text>
<line x1="256.10" y1="289.00" x2="256.10" y2="364.35" stroke="#2a2a2a" stroke-width="1.35" />
<line x1="255.50" y1="363.75" x2="304.10" y2="363.75" stroke="#2a2a2a" stroke-width="1.25" />
<line x1="253.30" y1="363.75" x2="256.10" y2="363.75" stroke="#2a2a2a" stroke-width="0.9" />
<text x="250.30" y="366.65" font-size="8.1" text-anchor="end" font-weight="normal" font-style="normal" fill="#222" >0</text>
<line x1="253.30" y1="345.71" x2="256.10" y2="345.71" stroke="#2a2a2a" stroke-width="0.9" />
<text x="250.30" y="348.61" font-size="8.1" text-anchor="end" font-weight="normal" font-style="normal" fill="#222" >1</text>
<line x1="253.30" y1="327.68" x2="256.10" y2="327.68" stroke="#2a2a2a" stroke-width="0.9" />
<text x="250.30" y="330.57" font-size="8.1" text-anchor="end" font-weight="normal" font-style="normal" fill="#222" >2</text>
<line x1="253.30" y1="309.64" x2="256.10" y2="309.64" stroke="#2a2a2a" stroke-width="0.9" />
<text x="250.30" y="312.54" font-size="8.1" text-anchor="end" font-weight="normal" font-style="normal" fill="#222" >3</text>
<line x1="253.30" y1="291.60" x2="256.10" y2="291.60" stroke="#2a2a2a" stroke-width="0.9" />
<text x="250.30" y="294.50" font-size="8.1" text-anchor="end" font-weight="normal" font-style="normal" fill="#222" >4</text>
<line x1="269.60" y1="363.75" x2="269.60" y2="366.25" stroke="#2a2a2a" stroke-width="0.9" />
<line x1="290.10" y1="363.75" x2="290.10" y2="366.25" stroke="#2a2a2a" stroke-width="0.9" />
<text x="269.60" y="376.75" font-size="7.4" text-anchor="middle" font-weight="normal" font-style="normal" fill="#1a1a1a" >Pre</text>
<text x="290.10" y="376.75" font-size="7.4" text-anchor="middle" font-weight="normal" font-style="normal" fill="#1a1a1a" >Post</text>
<text transform="translate(238.80,327.68) rotate(-90) scale(0.8,1)" font-size="9" text-anchor="middle" fill="#222">% cells</text>
<text x="280.10" y="300.40" font-size="8" text-anchor="middle" fill="#222"><tspan font-style="italic">P</tspan> <tspan font-weight="bold">=</tspan> .07</text>
<circle cx="269.55" cy="312.00" r="1.6" fill="#fbf4fa" stroke="#5a3e58" stroke-width="0.95"/>
<circle cx="269.55" cy="330.59" r="1.6" fill="#fbf4fa" stroke="#5a3e58" stroke-width="0.95"/>
<circle cx="269.55" cy="343.61" r="1.6" fill="#fbf4fa" stroke="#5a3e58" stroke-width="0.95"/>
<circle cx="269.55" cy="348.50" r="1.6" fill="#fbf4fa" stroke="#5a3e58" stroke-width="0.95"/>
<circle cx="267.30" cy="350.95" r="1.6" fill="#fbf4fa" stroke="#5a3e58" stroke-width="0.95"/>
<circle cx="264.36" cy="350.95" r="1.6" fill="#fbf4fa" stroke="#5a3e58" stroke-width="0.95"/>
<circle cx="266.81" cy="353.39" r="1.6" fill="#fbf4fa" stroke="#5a3e58" stroke-width="0.95"/>
<circle cx="264.36" cy="355.84" r="1.6" fill="#fbf4fa" stroke="#5a3e58" stroke-width="0.95"/>
<circle cx="271.70" cy="354.37" r="1.6" fill="#fbf4fa" stroke="#5a3e58" stroke-width="0.95"/>
<circle cx="275.12" cy="354.37" r="1.6" fill="#fbf4fa" stroke="#5a3e58" stroke-width="0.95"/>
<circle cx="269.25" cy="356.33" r="1.6" fill="#fbf4fa" stroke="#5a3e58" stroke-width="0.95"/>
<circle cx="267.78" cy="359.75" r="1.6" fill="#fbf4fa" stroke="#5a3e58" stroke-width="0.95"/>
<circle cx="270.72" cy="359.75" r="1.6" fill="#fbf4fa" stroke="#5a3e58" stroke-width="0.95"/>
<circle cx="264.36" cy="361.71" r="1.6" fill="#fbf4fa" stroke="#5a3e58" stroke-width="0.95"/>
<circle cx="272.68" cy="361.71" r="1.6" fill="#fbf4fa" stroke="#5a3e58" stroke-width="0.95"/>
<circle cx="274.63" cy="364.15" r="1.6" fill="#fbf4fa" stroke="#5a3e58" stroke-width="0.95"/>
<circle cx="269.74" cy="361.71" r="1.6" fill="#fbf4fa" stroke="#5a3e58" stroke-width="0.95"/>
<circle cx="289.80" cy="303.78" r="1.6" fill="#8a186a" stroke="#3a0f32" stroke-width="0.85"/>
<circle cx="289.80" cy="316.21" r="1.6" fill="#8a186a" stroke="#3a0f32" stroke-width="0.85"/>
<circle cx="289.80" cy="329.61" r="1.6" fill="#8a186a" stroke="#3a0f32" stroke-width="0.85"/>
<circle cx="292.74" cy="334.80" r="1.6" fill="#8a186a" stroke="#3a0f32" stroke-width="0.85"/>
<circle cx="289.80" cy="338.23" r="1.6" fill="#8a186a" stroke="#3a0f32" stroke-width="0.85"/>
<circle cx="289.80" cy="342.63" r="1.6" fill="#8a186a" stroke="#3a0f32" stroke-width="0.85"/>
<circle cx="287.35" cy="349.97" r="1.6" fill="#8a186a" stroke="#3a0f32" stroke-width="0.85"/>
<circle cx="291.76" cy="352.41" r="1.6" fill="#8a186a" stroke="#3a0f32" stroke-width="0.85"/>
<circle cx="287.35" cy="355.84" r="1.6" fill="#8a186a" stroke="#3a0f32" stroke-width="0.85"/>
<circle cx="292.74" cy="356.33" r="1.6" fill="#8a186a" stroke="#3a0f32" stroke-width="0.85"/>
<circle cx="290.29" cy="357.79" r="1.6" fill="#8a186a" stroke="#3a0f32" stroke-width="0.85"/>
<circle cx="291.76" cy="359.26" r="1.6" fill="#8a186a" stroke="#3a0f32" stroke-width="0.85"/>
<circle cx="284.91" cy="361.71" r="1.6" fill="#8a186a" stroke="#3a0f32" stroke-width="0.85"/>
<circle cx="287.84" cy="361.71" r="1.6" fill="#8a186a" stroke="#3a0f32" stroke-width="0.85"/>
<circle cx="292.25" cy="361.22" r="1.6" fill="#8a186a" stroke="#3a0f32" stroke-width="0.85"/>
<circle cx="295.18" cy="362.20" r="1.6" fill="#8a186a" stroke="#3a0f32" stroke-width="0.85"/>
<circle cx="290.29" cy="362.69" r="1.6" fill="#8a186a" stroke="#3a0f32" stroke-width="0.85"/>
<line x1="284.42" y1="353.39" x2="296.65" y2="353.39" stroke="#111" stroke-width="0.8" />
<text x="384.10" y="283.15" font-size="9.8" text-anchor="middle" font-weight="normal" font-style="normal" fill="#1a1a1a" >CD8 CM</text>
<line x1="360.10" y1="289.00" x2="360.10" y2="364.35" stroke="#2a2a2a" stroke-width="1.35" />
<line x1="359.50" y1="363.75" x2="408.10" y2="363.75" stroke="#2a2a2a" stroke-width="1.25" />
<line x1="357.30" y1="363.75" x2="360.10" y2="363.75" stroke="#2a2a2a" stroke-width="0.9" />
<text x="354.30" y="366.65" font-size="8.1" text-anchor="end" font-weight="normal" font-style="normal" fill="#222" >0</text>
<line x1="357.30" y1="339.70" x2="360.10" y2="339.70" stroke="#2a2a2a" stroke-width="0.9" />
<text x="354.30" y="342.60" font-size="8.1" text-anchor="end" font-weight="normal" font-style="normal" fill="#222" >5</text>
<line x1="357.30" y1="315.65" x2="360.10" y2="315.65" stroke="#2a2a2a" stroke-width="0.9" />
<text x="354.30" y="318.55" font-size="8.1" text-anchor="end" font-weight="normal" font-style="normal" fill="#222" >10</text>
<line x1="357.30" y1="291.60" x2="360.10" y2="291.60" stroke="#2a2a2a" stroke-width="0.9" />
<text x="354.30" y="294.50" font-size="8.1" text-anchor="end" font-weight="normal" font-style="normal" fill="#222" >15</text>
<line x1="373.60" y1="363.75" x2="373.60" y2="366.25" stroke="#2a2a2a" stroke-width="0.9" />
<line x1="394.10" y1="363.75" x2="394.10" y2="366.25" stroke="#2a2a2a" stroke-width="0.9" />
<text x="373.60" y="376.75" font-size="7.4" text-anchor="middle" font-weight="normal" font-style="normal" fill="#1a1a1a" >Pre</text>
<text x="394.10" y="376.75" font-size="7.4" text-anchor="middle" font-weight="normal" font-style="normal" fill="#1a1a1a" >Post</text>
<text transform="translate(338.50,327.68) rotate(-90) scale(0.8,1)" font-size="9" text-anchor="middle" fill="#222">% cells</text>
<text x="384.10" y="300.40" font-size="8" text-anchor="middle" fill="#222"><tspan font-style="italic">P</tspan> <tspan font-weight="bold">=</tspan> .21</text>
<circle cx="373.55" cy="339.99" r="1.6" fill="#fbf4fa" stroke="#5a3e58" stroke-width="0.95"/>
<circle cx="373.55" cy="347.52" r="1.6" fill="#fbf4fa" stroke="#5a3e58" stroke-width="0.95"/>
<circle cx="378.63" cy="349.77" r="1.6" fill="#fbf4fa" stroke="#5a3e58" stroke-width="0.95"/>
<circle cx="368.36" cy="352.41" r="1.6" fill="#fbf4fa" stroke="#5a3e58" stroke-width="0.95"/>
<circle cx="371.30" cy="352.41" r="1.6" fill="#fbf4fa" stroke="#5a3e58" stroke-width="0.95"/>
<circle cx="376.19" cy="353.88" r="1.6" fill="#fbf4fa" stroke="#5a3e58" stroke-width="0.95"/>
<circle cx="378.63" cy="352.90" r="1.6" fill="#fbf4fa" stroke="#5a3e58" stroke-width="0.95"/>
<circle cx="371.30" cy="355.84" r="1.6" fill="#fbf4fa" stroke="#5a3e58" stroke-width="0.95"/>
<circle cx="373.74" cy="356.33" r="1.6" fill="#fbf4fa" stroke="#5a3e58" stroke-width="0.95"/>
<circle cx="376.68" cy="354.86" r="1.6" fill="#fbf4fa" stroke="#5a3e58" stroke-width="0.95"/>
<circle cx="368.36" cy="359.26" r="1.6" fill="#fbf4fa" stroke="#5a3e58" stroke-width="0.95"/>
<circle cx="371.78" cy="358.77" r="1.6" fill="#fbf4fa" stroke="#5a3e58" stroke-width="0.95"/>
<circle cx="378.63" cy="359.75" r="1.6" fill="#fbf4fa" stroke="#5a3e58" stroke-width="0.95"/>
<circle cx="368.36" cy="362.69" r="1.6" fill="#fbf4fa" stroke="#5a3e58" stroke-width="0.95"/>
<circle cx="371.30" cy="361.71" r="1.6" fill="#fbf4fa" stroke="#5a3e58" stroke-width="0.95"/>
<circle cx="374.72" cy="361.71" r="1.6" fill="#fbf4fa" stroke="#5a3e58" stroke-width="0.95"/>
<circle cx="378.14" cy="362.69" r="1.6" fill="#fbf4fa" stroke="#5a3e58" stroke-width="0.95"/>
<circle cx="393.80" cy="317.68" r="1.6" fill="#8a186a" stroke="#3a0f32" stroke-width="0.85"/>
<circle cx="393.80" cy="328.64" r="1.6" fill="#8a186a" stroke="#3a0f32" stroke-width="0.85"/>
<circle cx="393.80" cy="335.78" r="1.6" fill="#8a186a" stroke="#3a0f32" stroke-width="0.85"/>
<circle cx="393.80" cy="348.21" r="1.6" fill="#8a186a" stroke="#3a0f32" stroke-width="0.85"/>
<circle cx="390.86" cy="352.41" r="1.6" fill="#8a186a" stroke="#3a0f32" stroke-width="0.85"/>
<circle cx="394.29" cy="352.90" r="1.6" fill="#8a186a" stroke="#3a0f32" stroke-width="0.85"/>
<circle cx="396.74" cy="353.88" r="1.6" fill="#8a186a" stroke="#3a0f32" stroke-width="0.85"/>
<circle cx="391.35" cy="356.33" r="1.6" fill="#8a186a" stroke="#3a0f32" stroke-width="0.85"/>
<circle cx="395.27" cy="356.33" r="1.6" fill="#8a186a" stroke="#3a0f32" stroke-width="0.85"/>
<circle cx="398.20" cy="356.82" r="1.6" fill="#8a186a" stroke="#3a0f32" stroke-width="0.85"/>
<circle cx="389.40" cy="359.26" r="1.6" fill="#8a186a" stroke="#3a0f32" stroke-width="0.85"/>
<circle cx="393.31" cy="359.26" r="1.6" fill="#8a186a" stroke="#3a0f32" stroke-width="0.85"/>
<circle cx="396.74" cy="359.26" r="1.6" fill="#8a186a" stroke="#3a0f32" stroke-width="0.85"/>
<circle cx="399.67" cy="359.75" r="1.6" fill="#8a186a" stroke="#3a0f32" stroke-width="0.85"/>
<circle cx="388.42" cy="361.71" r="1.6" fill="#8a186a" stroke="#3a0f32" stroke-width="0.85"/>
<circle cx="391.84" cy="361.71" r="1.6" fill="#8a186a" stroke="#3a0f32" stroke-width="0.85"/>
<circle cx="395.27" cy="361.71" r="1.6" fill="#8a186a" stroke="#3a0f32" stroke-width="0.85"/>
<circle cx="398.69" cy="361.71" r="1.6" fill="#8a186a" stroke="#3a0f32" stroke-width="0.85"/>
<line x1="368.85" y1="357.99" x2="378.63" y2="357.99" stroke="#111" stroke-width="0.8" />
<line x1="388.42" y1="356.33" x2="400.16" y2="356.33" stroke="#111" stroke-width="0.8" />
<text x="487.60" y="283.15" font-size="9.8" text-anchor="middle" font-weight="normal" font-style="normal" fill="#1a1a1a" >CD8 EMRA</text>
<line x1="463.60" y1="289.00" x2="463.60" y2="364.35" stroke="#2a2a2a" stroke-width="1.35" />
<line x1="463.00" y1="363.75" x2="511.60" y2="363.75" stroke="#2a2a2a" stroke-width="1.25" />
<line x1="460.80" y1="363.75" x2="463.60" y2="363.75" stroke="#2a2a2a" stroke-width="0.9" />
<text x="457.80" y="366.65" font-size="8.1" text-anchor="end" font-weight="normal" font-style="normal" fill="#222" >0</text>
<line x1="460.80" y1="339.70" x2="463.60" y2="339.70" stroke="#2a2a2a" stroke-width="0.9" />
<text x="457.80" y="342.60" font-size="8.1" text-anchor="end" font-weight="normal" font-style="normal" fill="#222" >5</text>
<line x1="460.80" y1="315.65" x2="463.60" y2="315.65" stroke="#2a2a2a" stroke-width="0.9" />
<text x="457.80" y="318.55" font-size="8.1" text-anchor="end" font-weight="normal" font-style="normal" fill="#222" >10</text>
<line x1="460.80" y1="291.60" x2="463.60" y2="291.60" stroke="#2a2a2a" stroke-width="0.9" />
<text x="457.80" y="294.50" font-size="8.1" text-anchor="end" font-weight="normal" font-style="normal" fill="#222" >15</text>
<line x1="477.10" y1="363.75" x2="477.10" y2="366.25" stroke="#2a2a2a" stroke-width="0.9" />
<line x1="497.60" y1="363.75" x2="497.60" y2="366.25" stroke="#2a2a2a" stroke-width="0.9" />
<text x="477.10" y="376.75" font-size="7.4" text-anchor="middle" font-weight="normal" font-style="normal" fill="#1a1a1a" >Pre</text>
<text x="497.60" y="376.75" font-size="7.4" text-anchor="middle" font-weight="normal" font-style="normal" fill="#1a1a1a" >Post</text>
<text transform="translate(442.00,327.68) rotate(-90) scale(0.8,1)" font-size="9" text-anchor="middle" fill="#222">% cells</text>
<text x="487.60" y="300.40" font-size="8" text-anchor="middle" fill="#222"><tspan font-style="italic">P</tspan> <tspan font-weight="bold">=</tspan> .60</text>
<circle cx="477.21" cy="311.81" r="1.6" fill="#fbf4fa" stroke="#5a3e58" stroke-width="0.95"/>
<circle cx="477.21" cy="322.57" r="1.6" fill="#fbf4fa" stroke="#5a3e58" stroke-width="0.95"/>
<circle cx="471.83" cy="351.92" r="1.6" fill="#fbf4fa" stroke="#5a3e58" stroke-width="0.95"/>
<circle cx="474.27" cy="350.95" r="1.6" fill="#fbf4fa" stroke="#5a3e58" stroke-width="0.95"/>
<circle cx="476.72" cy="350.46" r="1.6" fill="#fbf4fa" stroke="#5a3e58" stroke-width="0.95"/>
<circle cx="479.17" cy="351.43" r="1.6" fill="#fbf4fa" stroke="#5a3e58" stroke-width="0.95"/>
<circle cx="482.10" cy="351.92" r="1.6" fill="#fbf4fa" stroke="#5a3e58" stroke-width="0.95"/>
<circle cx="473.78" cy="354.86" r="1.6" fill="#fbf4fa" stroke="#5a3e58" stroke-width="0.95"/>
<circle cx="477.21" cy="353.88" r="1.6" fill="#fbf4fa" stroke="#5a3e58" stroke-width="0.95"/>
<circle cx="480.63" cy="354.37" r="1.6" fill="#fbf4fa" stroke="#5a3e58" stroke-width="0.95"/>
<circle cx="473.78" cy="357.79" r="1.6" fill="#fbf4fa" stroke="#5a3e58" stroke-width="0.95"/>
<circle cx="477.21" cy="358.28" r="1.6" fill="#fbf4fa" stroke="#5a3e58" stroke-width="0.95"/>
<circle cx="480.14" cy="356.82" r="1.6" fill="#fbf4fa" stroke="#5a3e58" stroke-width="0.95"/>
<circle cx="476.23" cy="360.73" r="1.6" fill="#fbf4fa" stroke="#5a3e58" stroke-width="0.95"/>
<circle cx="478.68" cy="361.22" r="1.6" fill="#fbf4fa" stroke="#5a3e58" stroke-width="0.95"/>
<circle cx="473.78" cy="363.67" r="1.6" fill="#fbf4fa" stroke="#5a3e58" stroke-width="0.95"/>
<circle cx="478.19" cy="364.15" r="1.6" fill="#fbf4fa" stroke="#5a3e58" stroke-width="0.95"/>
<circle cx="497.76" cy="314.25" r="1.6" fill="#8a186a" stroke="#3a0f32" stroke-width="0.85"/>
<circle cx="497.76" cy="334.80" r="1.6" fill="#8a186a" stroke="#3a0f32" stroke-width="0.85"/>
<circle cx="502.94" cy="346.54" r="1.6" fill="#8a186a" stroke="#3a0f32" stroke-width="0.85"/>
<circle cx="492.86" cy="348.99" r="1.6" fill="#8a186a" stroke="#3a0f32" stroke-width="0.85"/>
<circle cx="498.74" cy="350.46" r="1.6" fill="#8a186a" stroke="#3a0f32" stroke-width="0.85"/>
<circle cx="492.38" cy="353.39" r="1.6" fill="#8a186a" stroke="#3a0f32" stroke-width="0.85"/>
<circle cx="495.80" cy="352.41" r="1.6" fill="#8a186a" stroke="#3a0f32" stroke-width="0.85"/>
<circle cx="501.18" cy="352.90" r="1.6" fill="#8a186a" stroke="#3a0f32" stroke-width="0.85"/>
<circle cx="503.63" cy="352.41" r="1.6" fill="#8a186a" stroke="#3a0f32" stroke-width="0.85"/>
<circle cx="494.33" cy="356.33" r="1.6" fill="#8a186a" stroke="#3a0f32" stroke-width="0.85"/>
<circle cx="497.27" cy="355.84" r="1.6" fill="#8a186a" stroke="#3a0f32" stroke-width="0.85"/>
<circle cx="496.29" cy="359.26" r="1.6" fill="#8a186a" stroke="#3a0f32" stroke-width="0.85"/>
<circle cx="500.20" cy="359.75" r="1.6" fill="#8a186a" stroke="#3a0f32" stroke-width="0.85"/>
<circle cx="493.35" cy="360.73" r="1.6" fill="#8a186a" stroke="#3a0f32" stroke-width="0.85"/>
<circle cx="497.76" cy="360.73" r="1.6" fill="#8a186a" stroke="#3a0f32" stroke-width="0.85"/>
<circle cx="495.31" cy="361.71" r="1.6" fill="#8a186a" stroke="#3a0f32" stroke-width="0.85"/>
<text x="6.60" y="409.50" font-size="11.2" text-anchor="start" font-weight="bold" font-style="normal" fill="#1a1a1a" style="stroke-width:0.35px">C</text>
<text x="158.55" y="424.40" font-size="9.4" text-anchor="middle" font-weight="normal" font-style="normal" fill="#1a1a1a" >CD4 naive</text>
<text x="35.00" y="445.80" font-size="8" text-anchor="end" font-weight="normal" font-style="normal" fill="#1a1a1a" >Pre</text>
<text x="35.00" y="455.50" font-size="8" text-anchor="end" font-weight="normal" font-style="normal" fill="#1a1a1a" >Post</text>
<line x1="38.00" y1="447.72" x2="64.81" y2="447.72" stroke="#d2d6d0" stroke-width="0.7"/>
<path d="M47.56,447.72 L47.56,447.65 L47.95,447.63 L48.34,447.61 L48.73,447.59 L49.12,447.55 L49.52,447.51 L49.91,447.46 L50.30,447.37 L50.69,447.25 L51.08,447.04 L51.47,446.70 L51.86,446.14 L52.25,445.26 L52.64,444.02 L53.04,442.41 L53.43,440.56 L53.82,438.72 L54.21,437.15 L54.60,436.10 L54.99,437.15 L55.38,438.72 L55.77,440.56 L56.16,442.41 L56.56,444.02 L56.95,445.26 L57.34,446.14 L57.73,446.70 L58.12,447.04 L58.51,447.25 L58.90,447.37 L59.29,447.46 L59.68,447.51 L60.08,447.55 L60.47,447.59 L60.86,447.61 L61.25,447.63 L61.64,447.65 L61.64,447.72 Z" fill="#d0efc6" stroke="#8cc680" stroke-width="0.6" fill-opacity="0.9"/>
<path d="M47.56,456.20 L47.56,456.12 L47.95,456.10 L48.34,456.07 L48.73,456.04 L49.12,456.00 L49.52,455.95 L49.91,455.88 L50.30,455.78 L50.69,455.63 L51.08,455.38 L51.47,454.96 L51.86,454.27 L52.25,453.20 L52.64,451.68 L53.04,449.71 L53.43,447.46 L53.82,445.20 L54.21,443.29 L54.60,442.00 L54.99,443.29 L55.38,445.20 L55.77,447.46 L56.16,449.71 L56.56,451.68 L56.95,453.20 L57.34,454.27 L57.73,454.96 L58.12,455.38 L58.51,455.63 L58.90,455.78 L59.29,455.88 L59.68,455.95 L60.08,456.00 L60.47,456.04 L60.86,456.07 L61.25,456.10 L61.64,456.12 L61.64,456.20 Z" fill="#7dcb77" stroke="#2f7a2f" stroke-width="0.6" fill-opacity="0.9"/>
<line x1="64.81" y1="447.72" x2="91.62" y2="447.72" stroke="#d2d6d0" stroke-width="0.7"/>
<path d="M71.96,447.72 L71.96,447.65 L72.35,447.63 L72.74,447.61 L73.13,447.59 L73.52,447.55 L73.92,447.51 L74.31,447.46 L74.70,447.37 L75.09,447.25 L75.48,447.04 L75.87,446.70 L76.26,446.14 L76.65,445.26 L77.04,444.02 L77.44,442.41 L77.83,440.56 L78.22,438.72 L78.61,437.15 L79.00,436.10 L79.39,437.15 L79.78,438.72 L80.17,440.56 L80.56,442.41 L80.96,444.02 L81.35,445.26 L81.74,446.14 L82.13,446.70 L82.52,447.04 L82.91,447.25 L83.30,447.37 L83.69,447.46 L84.08,447.51 L84.48,447.55 L84.87,447.59 L85.26,447.61 L85.65,447.63 L86.04,447.65 L86.04,447.72 Z" fill="#d0efc6" stroke="#8cc680" stroke-width="0.6" fill-opacity="0.9"/>
<path d="M72.40,456.20 L72.40,456.12 L72.77,456.10 L73.13,456.07 L73.50,456.04 L73.87,456.00 L74.23,455.95 L74.60,455.88 L74.97,455.78 L75.33,455.63 L75.70,455.38 L76.07,454.96 L76.43,454.27 L76.80,453.20 L77.17,451.68 L77.53,449.71 L77.90,447.46 L78.27,445.20 L78.63,443.29 L79.00,442.00 L79.37,443.29 L79.73,445.20 L80.10,447.46 L80.47,449.71 L80.83,451.68 L81.20,453.20 L81.57,454.27 L81.93,454.96 L82.30,455.38 L82.67,455.63 L83.03,455.78 L83.40,455.88 L83.77,455.95 L84.13,456.00 L84.50,456.04 L84.87,456.07 L85.23,456.10 L85.60,456.12 L85.60,456.20 Z" fill="#7dcb77" stroke="#2f7a2f" stroke-width="0.6" fill-opacity="0.9"/>
<line x1="91.62" y1="447.72" x2="118.43" y2="447.72" stroke="#d2d6d0" stroke-width="0.7"/>
<path d="M99.60,447.72 L99.60,447.66 L99.97,447.65 L100.33,447.63 L100.70,447.61 L101.07,447.59 L101.43,447.55 L101.80,447.51 L102.17,447.44 L102.53,447.34 L102.90,447.17 L103.27,446.89 L103.63,446.44 L104.00,445.73 L104.37,444.72 L104.73,443.41 L105.10,441.92 L105.47,440.42 L105.83,439.15 L106.20,438.30 L106.57,439.15 L106.93,440.42 L107.30,441.92 L107.67,443.41 L108.03,444.72 L108.40,445.73 L108.77,446.44 L109.13,446.89 L109.50,447.17 L109.87,447.34 L110.23,447.44 L110.60,447.51 L110.97,447.55 L111.33,447.59 L111.70,447.61 L112.07,447.63 L112.43,447.65 L112.80,447.66 L112.80,447.72 Z" fill="#d0efc6" stroke="#8cc680" stroke-width="0.6" fill-opacity="0.9"/>
<path d="M99.60,456.20 L99.60,456.12 L99.97,456.10 L100.33,456.08 L100.70,456.05 L101.07,456.01 L101.43,455.96 L101.80,455.90 L102.17,455.81 L102.53,455.67 L102.90,455.43 L103.27,455.04 L103.63,454.40 L104.00,453.41 L104.37,451.99 L104.73,450.17 L105.10,448.07 L105.47,445.97 L105.83,444.20 L106.20,443.00 L106.57,444.20 L106.93,445.97 L107.30,448.07 L107.67,450.17 L108.03,451.99 L108.40,453.41 L108.77,454.40 L109.13,455.04 L109.50,455.43 L109.87,455.67 L110.23,455.81 L110.60,455.90 L110.97,455.96 L111.33,456.01 L111.70,456.05 L112.07,456.08 L112.43,456.10 L112.80,456.12 L112.80,456.20 Z" fill="#7dcb77" stroke="#2f7a2f" stroke-width="0.6" fill-opacity="0.9"/>
<line x1="118.43" y1="447.72" x2="145.24" y2="447.72" stroke="#d2d6d0" stroke-width="0.7"/>
<path d="M125.20,447.72 L125.20,447.67 L125.57,447.66 L125.93,447.64 L126.30,447.62 L126.67,447.60 L127.03,447.57 L127.40,447.53 L127.77,447.47 L128.13,447.38 L128.50,447.24 L128.87,446.99 L129.23,446.59 L129.60,445.96 L129.97,445.07 L130.33,443.92 L130.70,442.60 L131.07,441.27 L131.43,440.15 L131.80,439.40 L132.17,440.15 L132.53,441.27 L132.90,442.60 L133.27,443.92 L133.63,445.07 L134.00,445.96 L134.37,446.59 L134.73,446.99 L135.10,447.24 L135.47,447.38 L135.83,447.47 L136.20,447.53 L136.57,447.57 L136.93,447.60 L137.30,447.62 L137.67,447.64 L138.03,447.66 L138.40,447.67 L138.40,447.72 Z" fill="#d0efc6" stroke="#8cc680" stroke-width="0.6" fill-opacity="0.9"/>
<path d="M125.64,456.20 L125.64,456.13 L125.98,456.12 L126.32,456.10 L126.67,456.07 L127.01,456.04 L127.35,456.00 L127.69,455.95 L128.04,455.87 L128.38,455.75 L128.72,455.55 L129.06,455.22 L129.40,454.67 L129.75,453.83 L130.09,452.63 L130.43,451.08 L130.77,449.30 L131.12,447.52 L131.46,446.02 L131.80,445.00 L132.14,446.02 L132.48,447.52 L132.83,449.30 L133.17,451.08 L133.51,452.63 L133.85,453.83 L134.20,454.67 L134.54,455.22 L134.88,455.55 L135.22,455.75 L135.56,455.87 L135.91,455.95 L136.25,456.00 L136.59,456.04 L136.93,456.07 L137.28,456.10 L137.62,456.12 L137.96,456.13 L137.96,456.20 Z" fill="#7dcb77" stroke="#2f7a2f" stroke-width="0.6" fill-opacity="0.9"/>
<line x1="145.24" y1="447.72" x2="172.05" y2="447.72" stroke="#d2d6d0" stroke-width="0.7"/>
<path d="M152.00,447.72 L152.00,447.67 L152.37,447.66 L152.73,447.65 L153.10,447.63 L153.47,447.61 L153.83,447.58 L154.20,447.54 L154.57,447.48 L154.93,447.40 L155.30,447.26 L155.67,447.03 L156.03,446.64 L156.40,446.05 L156.77,445.20 L157.13,444.10 L157.50,442.84 L157.87,441.58 L158.23,440.52 L158.60,439.80 L158.97,440.52 L159.33,441.58 L159.70,442.84 L160.07,444.10 L160.43,445.20 L160.80,446.05 L161.17,446.64 L161.53,447.03 L161.90,447.26 L162.27,447.40 L162.63,447.48 L163.00,447.54 L163.37,447.58 L163.73,447.61 L164.10,447.63 L164.47,447.65 L164.83,447.66 L165.20,447.67 L165.20,447.72 Z" fill="#d0efc6" stroke="#8cc680" stroke-width="0.6" fill-opacity="0.9"/>
<path d="M152.44,456.20 L152.44,456.13 L152.78,456.12 L153.12,456.10 L153.47,456.07 L153.81,456.04 L154.15,456.00 L154.49,455.95 L154.84,455.87 L155.18,455.75 L155.52,455.55 L155.86,455.22 L156.20,454.67 L156.55,453.83 L156.89,452.63 L157.23,451.08 L157.57,449.30 L157.92,447.52 L158.26,446.02 L158.60,445.00 L158.94,446.02 L159.28,447.52 L159.63,449.30 L159.97,451.08 L160.31,452.63 L160.65,453.83 L161.00,454.67 L161.34,455.22 L161.68,455.55 L162.02,455.75 L162.36,455.87 L162.71,455.95 L163.05,456.00 L163.39,456.04 L163.73,456.07 L164.08,456.10 L164.42,456.12 L164.76,456.13 L164.76,456.20 Z" fill="#7dcb77" stroke="#2f7a2f" stroke-width="0.6" fill-opacity="0.9"/>
<line x1="172.05" y1="447.72" x2="198.86" y2="447.72" stroke="#d2d6d0" stroke-width="0.7"/>
<path d="M180.20,447.72 L180.20,447.66 L180.57,447.64 L180.93,447.62 L181.30,447.60 L181.67,447.57 L182.03,447.53 L182.40,447.48 L182.77,447.40 L183.13,447.29 L183.50,447.10 L183.87,446.78 L184.23,446.26 L184.60,445.45 L184.97,444.30 L185.33,442.82 L185.70,441.12 L186.07,439.42 L186.43,437.97 L186.80,437.00 L187.17,437.97 L187.53,439.42 L187.90,441.12 L188.27,442.82 L188.63,444.30 L189.00,445.45 L189.37,446.26 L189.73,446.78 L190.10,447.10 L190.47,447.29 L190.83,447.40 L191.20,447.48 L191.57,447.53 L191.93,447.57 L192.30,447.60 L192.67,447.62 L193.03,447.64 L193.40,447.66 L193.40,447.72 Z" fill="#d0efc6" stroke="#8cc680" stroke-width="0.6" fill-opacity="0.9"/>
<path d="M180.64,456.20 L180.64,456.12 L180.98,456.10 L181.32,456.08 L181.67,456.05 L182.01,456.01 L182.35,455.96 L182.69,455.90 L183.04,455.81 L183.38,455.67 L183.72,455.43 L184.06,455.04 L184.40,454.40 L184.75,453.41 L185.09,451.99 L185.43,450.17 L185.77,448.07 L186.12,445.97 L186.46,444.20 L186.80,443.00 L187.14,444.20 L187.48,445.97 L187.83,448.07 L188.17,450.17 L188.51,451.99 L188.85,453.41 L189.20,454.40 L189.54,455.04 L189.88,455.43 L190.22,455.67 L190.56,455.81 L190.91,455.90 L191.25,455.96 L191.59,456.01 L191.93,456.05 L192.28,456.08 L192.62,456.10 L192.96,456.12 L192.96,456.20 Z" fill="#7dcb77" stroke="#2f7a2f" stroke-width="0.6" fill-opacity="0.9"/>
<line x1="198.86" y1="447.72" x2="225.67" y2="447.72" stroke="#d2d6d0" stroke-width="0.7"/>
<path d="M207.60,447.72 L207.60,447.65 L207.97,447.63 L208.33,447.61 L208.70,447.58 L209.07,447.55 L209.43,447.50 L209.80,447.44 L210.17,447.36 L210.53,447.23 L210.90,447.01 L211.27,446.65 L211.63,446.06 L212.00,445.14 L212.37,443.83 L212.73,442.14 L213.10,440.20 L213.47,438.25 L213.83,436.61 L214.20,435.50 L214.57,436.61 L214.93,438.25 L215.30,440.20 L215.67,442.14 L216.03,443.83 L216.40,445.14 L216.77,446.06 L217.13,446.65 L217.50,447.01 L217.87,447.23 L218.23,447.36 L218.60,447.44 L218.97,447.50 L219.33,447.55 L219.70,447.58 L220.07,447.61 L220.43,447.63 L220.80,447.65 L220.80,447.72 Z" fill="#d0efc6" stroke="#8cc680" stroke-width="0.6" fill-opacity="0.9"/>
<path d="M208.04,456.20 L208.04,456.11 L208.38,456.09 L208.72,456.06 L209.07,456.03 L209.41,455.98 L209.75,455.93 L210.09,455.85 L210.44,455.75 L210.78,455.59 L211.12,455.32 L211.46,454.87 L211.80,454.13 L212.15,452.99 L212.49,451.36 L212.83,449.25 L213.17,446.84 L213.52,444.43 L213.86,442.38 L214.20,441.00 L214.54,442.38 L214.88,444.43 L215.23,446.84 L215.57,449.25 L215.91,451.36 L216.25,452.99 L216.60,454.13 L216.94,454.87 L217.28,455.32 L217.62,455.59 L217.96,455.75 L218.31,455.85 L218.65,455.93 L218.99,455.98 L219.33,456.03 L219.68,456.06 L220.02,456.09 L220.36,456.11 L220.36,456.20 Z" fill="#7dcb77" stroke="#2f7a2f" stroke-width="0.6" fill-opacity="0.9"/>
<line x1="225.67" y1="447.72" x2="252.48" y2="447.72" stroke="#d2d6d0" stroke-width="0.7"/>
<path d="M242.76,447.72 L242.76,447.64 L242.91,447.62 L243.05,447.60 L243.20,447.57 L243.35,447.54 L243.49,447.49 L243.64,447.43 L243.79,447.34 L243.93,447.20 L244.08,446.98 L244.23,446.60 L244.37,445.97 L244.52,445.01 L244.67,443.63 L244.81,441.86 L244.96,439.83 L245.11,437.79 L245.25,436.06 L245.40,434.90 L245.55,436.06 L245.69,437.79 L245.84,439.83 L245.99,441.86 L246.13,443.63 L246.28,445.01 L246.43,445.97 L246.57,446.60 L246.72,446.98 L246.87,447.20 L247.01,447.34 L247.16,447.43 L247.31,447.49 L247.45,447.54 L247.60,447.57 L247.75,447.60 L247.89,447.62 L248.04,447.64 L248.04,447.72 Z" fill="#d0efc6" stroke="#8cc680" stroke-width="0.6" fill-opacity="0.9"/>
<path d="M243.20,456.20 L243.20,456.10 L243.32,456.08 L243.44,456.05 L243.57,456.02 L243.69,455.97 L243.81,455.91 L243.93,455.83 L244.06,455.72 L244.18,455.55 L244.30,455.26 L244.42,454.78 L244.54,453.99 L244.67,452.78 L244.79,451.04 L244.91,448.80 L245.03,446.23 L245.16,443.65 L245.28,441.47 L245.40,440.00 L245.52,441.47 L245.64,443.65 L245.77,446.23 L245.89,448.80 L246.01,451.04 L246.13,452.78 L246.26,453.99 L246.38,454.78 L246.50,455.26 L246.62,455.55 L246.74,455.72 L246.87,455.83 L246.99,455.91 L247.11,455.97 L247.23,456.02 L247.36,456.05 L247.48,456.08 L247.60,456.10 L247.60,456.20 Z" fill="#7dcb77" stroke="#2f7a2f" stroke-width="0.6" fill-opacity="0.9"/>
<line x1="252.48" y1="447.72" x2="279.29" y2="447.72" stroke="#d2d6d0" stroke-width="0.7"/>
<path d="M257.32,447.72 L257.32,447.67 L257.74,447.66 L258.15,447.64 L258.57,447.62 L258.98,447.60 L259.40,447.57 L259.81,447.53 L260.23,447.47 L260.64,447.37 L261.06,447.22 L261.48,446.97 L261.89,446.56 L262.31,445.92 L262.72,445.00 L263.14,443.83 L263.55,442.47 L263.97,441.12 L264.38,439.97 L264.80,439.20 L265.22,439.97 L265.63,441.12 L266.05,442.47 L266.46,443.83 L266.88,445.00 L267.29,445.92 L267.71,446.56 L268.12,446.97 L268.54,447.22 L268.96,447.37 L269.37,447.47 L269.79,447.53 L270.20,447.57 L270.62,447.60 L271.03,447.62 L271.45,447.64 L271.86,447.66 L272.28,447.67 L272.28,447.72 Z" fill="#d0efc6" stroke="#8cc680" stroke-width="0.6" fill-opacity="0.9"/>
<path d="M257.76,456.20 L257.76,456.13 L258.15,456.12 L258.54,456.10 L258.93,456.07 L259.32,456.04 L259.72,456.00 L260.11,455.95 L260.50,455.87 L260.89,455.75 L261.28,455.55 L261.67,455.22 L262.06,454.67 L262.45,453.83 L262.84,452.63 L263.24,451.08 L263.63,449.30 L264.02,447.52 L264.41,446.02 L264.80,445.00 L265.19,446.02 L265.58,447.52 L265.97,449.30 L266.36,451.08 L266.76,452.63 L267.15,453.83 L267.54,454.67 L267.93,455.22 L268.32,455.55 L268.71,455.75 L269.10,455.87 L269.49,455.95 L269.88,456.00 L270.28,456.04 L270.67,456.07 L271.06,456.10 L271.45,456.12 L271.84,456.13 L271.84,456.20 Z" fill="#7dcb77" stroke="#2f7a2f" stroke-width="0.6" fill-opacity="0.9"/>
<rect x="38.00" y="430.50" width="241.29" height="25.70" fill="none" stroke="#474747" stroke-width="1.2"/>
<line x1="64.81" y1="430.50" x2="64.81" y2="456.20" stroke="#4a4a4a" stroke-width="1.3" />
<line x1="91.62" y1="430.50" x2="91.62" y2="456.20" stroke="#4a4a4a" stroke-width="1.3" />
<line x1="118.43" y1="430.50" x2="118.43" y2="456.20" stroke="#4a4a4a" stroke-width="1.3" />
<line x1="145.24" y1="430.50" x2="145.24" y2="456.20" stroke="#4a4a4a" stroke-width="1.3" />
<line x1="172.05" y1="430.50" x2="172.05" y2="456.20" stroke="#4a4a4a" stroke-width="1.3" />
<line x1="198.86" y1="430.50" x2="198.86" y2="456.20" stroke="#4a4a4a" stroke-width="1.3" />
<line x1="225.67" y1="430.50" x2="225.67" y2="456.20" stroke="#4a4a4a" stroke-width="1.3" />
<line x1="252.48" y1="430.50" x2="252.48" y2="456.20" stroke="#4a4a4a" stroke-width="1.3" />
<text x="158.55" y="480.90" font-size="9.4" text-anchor="middle" font-weight="normal" font-style="normal" fill="#1a1a1a" >CD4 memory</text>
<text x="35.00" y="501.90" font-size="8" text-anchor="end" font-weight="normal" font-style="normal" fill="#1a1a1a" >Pre</text>
<text x="35.00" y="511.60" font-size="8" text-anchor="end" font-weight="normal" font-style="normal" fill="#1a1a1a" >Post</text>
<line x1="38.00" y1="504.15" x2="64.81" y2="504.15" stroke="#d2d6d0" stroke-width="0.7"/>
<path d="M44.00,504.15 L44.00,504.09 L44.49,504.07 L44.98,504.05 L45.47,504.03 L45.96,504.00 L46.44,503.96 L46.93,503.90 L47.42,503.82 L47.91,503.70 L48.40,503.51 L48.89,503.18 L49.38,502.64 L49.87,501.80 L50.36,500.60 L50.84,499.06 L51.33,497.29 L51.82,495.51 L52.31,494.01 L52.80,493.00 L53.29,494.01 L53.78,495.51 L54.27,497.29 L54.76,499.06 L55.24,500.60 L55.73,501.80 L56.22,502.64 L56.71,503.18 L57.20,503.51 L57.69,503.70 L58.18,503.82 L58.67,503.90 L59.16,503.96 L59.64,504.00 L60.13,504.03 L60.62,504.05 L61.11,504.07 L61.60,504.09 L61.60,504.15 Z" fill="#d0efc6" stroke="#8cc680" stroke-width="0.6" fill-opacity="0.9"/>
<path d="M44.44,512.80 L44.44,512.74 L44.90,512.73 L45.37,512.71 L45.83,512.69 L46.30,512.67 L46.76,512.63 L47.23,512.59 L47.69,512.52 L48.16,512.42 L48.62,512.25 L49.08,511.98 L49.55,511.52 L50.01,510.81 L50.48,509.80 L50.94,508.50 L51.41,507.01 L51.87,505.52 L52.34,504.25 L52.80,503.40 L53.26,504.25 L53.73,505.52 L54.19,507.01 L54.66,508.50 L55.12,509.80 L55.59,510.81 L56.05,511.52 L56.52,511.98 L56.98,512.25 L57.44,512.42 L57.91,512.52 L58.37,512.59 L58.84,512.63 L59.30,512.67 L59.77,512.69 L60.23,512.71 L60.70,512.73 L61.16,512.74 L61.16,512.80 Z" fill="#7dcb77" stroke="#2f7a2f" stroke-width="0.6" fill-opacity="0.9"/>
<line x1="64.81" y1="504.15" x2="91.62" y2="504.15" stroke="#d2d6d0" stroke-width="0.7"/>
<path d="M71.18,504.15 L71.18,504.08 L71.62,504.06 L72.06,504.04 L72.50,504.01 L72.94,503.97 L73.38,503.93 L73.82,503.87 L74.26,503.78 L74.70,503.64 L75.14,503.42 L75.58,503.05 L76.02,502.43 L76.46,501.48 L76.90,500.12 L77.34,498.37 L77.78,496.36 L78.22,494.35 L78.66,492.65 L79.10,491.50 L79.54,492.65 L79.98,494.35 L80.42,496.36 L80.86,498.37 L81.30,500.12 L81.74,501.48 L82.18,502.43 L82.62,503.05 L83.06,503.42 L83.50,503.64 L83.94,503.78 L84.38,503.87 L84.82,503.93 L85.26,503.97 L85.70,504.01 L86.14,504.04 L86.58,504.06 L87.02,504.08 L87.02,504.15 Z" fill="#d0efc6" stroke="#8cc680" stroke-width="0.6" fill-opacity="0.9"/>
<path d="M72.50,512.80 L72.50,512.71 L72.87,512.68 L73.23,512.66 L73.60,512.62 L73.97,512.58 L74.33,512.52 L74.70,512.44 L75.07,512.33 L75.43,512.16 L75.80,511.88 L76.17,511.42 L76.53,510.65 L76.90,509.46 L77.27,507.77 L77.63,505.58 L78.00,503.07 L78.37,500.56 L78.73,498.43 L79.10,497.00 L79.47,498.43 L79.83,500.56 L80.20,503.07 L80.57,505.58 L80.93,507.77 L81.30,509.46 L81.67,510.65 L82.03,511.42 L82.40,511.88 L82.77,512.16 L83.13,512.33 L83.50,512.44 L83.87,512.52 L84.23,512.58 L84.60,512.62 L84.97,512.66 L85.33,512.68 L85.70,512.71 L85.70,512.80 Z" fill="#7dcb77" stroke="#2f7a2f" stroke-width="0.6" fill-opacity="0.9"/>
<line x1="91.62" y1="504.15" x2="118.43" y2="504.15" stroke="#d2d6d0" stroke-width="0.7"/>
<path d="M98.96,504.15 L98.96,504.09 L99.35,504.08 L99.74,504.06 L100.13,504.04 L100.52,504.01 L100.92,503.97 L101.31,503.92 L101.70,503.84 L102.09,503.73 L102.48,503.55 L102.87,503.24 L103.26,502.73 L103.65,501.94 L104.04,500.82 L104.44,499.38 L104.83,497.72 L105.22,496.06 L105.61,494.65 L106.00,493.70 L106.39,494.65 L106.78,496.06 L107.17,497.72 L107.56,499.38 L107.96,500.82 L108.35,501.94 L108.74,502.73 L109.13,503.24 L109.52,503.55 L109.91,503.73 L110.30,503.84 L110.69,503.92 L111.08,503.97 L111.48,504.01 L111.87,504.04 L112.26,504.06 L112.65,504.08 L113.04,504.09 L113.04,504.15 Z" fill="#d0efc6" stroke="#8cc680" stroke-width="0.6" fill-opacity="0.9"/>
<path d="M99.84,512.80 L99.84,512.72 L100.18,512.71 L100.52,512.68 L100.87,512.65 L101.21,512.62 L101.55,512.57 L101.89,512.51 L102.24,512.42 L102.58,512.28 L102.92,512.06 L103.26,511.68 L103.60,511.06 L103.95,510.09 L104.29,508.72 L104.63,506.95 L104.97,504.92 L105.32,502.88 L105.66,501.16 L106.00,500.00 L106.34,501.16 L106.68,502.88 L107.03,504.92 L107.37,506.95 L107.71,508.72 L108.05,510.09 L108.40,511.06 L108.74,511.68 L109.08,512.06 L109.42,512.28 L109.76,512.42 L110.11,512.51 L110.45,512.57 L110.79,512.62 L111.13,512.65 L111.48,512.68 L111.82,512.71 L112.16,512.72 L112.16,512.80 Z" fill="#7dcb77" stroke="#2f7a2f" stroke-width="0.6" fill-opacity="0.9"/>
<line x1="118.43" y1="504.15" x2="145.24" y2="504.15" stroke="#d2d6d0" stroke-width="0.7"/>
<path d="M123.32,504.15 L123.32,504.11 L123.74,504.09 L124.15,504.08 L124.57,504.06 L124.98,504.04 L125.40,504.01 L125.81,503.97 L126.23,503.91 L126.64,503.82 L127.06,503.67 L127.48,503.43 L127.89,503.03 L128.31,502.41 L128.72,501.52 L129.14,500.38 L129.55,499.07 L129.97,497.76 L130.38,496.65 L130.80,495.90 L131.22,496.65 L131.63,497.76 L132.05,499.07 L132.46,500.38 L132.88,501.52 L133.29,502.41 L133.71,503.03 L134.12,503.43 L134.54,503.67 L134.96,503.82 L135.37,503.91 L135.79,503.97 L136.20,504.01 L136.62,504.04 L137.03,504.06 L137.45,504.08 L137.86,504.09 L138.28,504.11 L138.28,504.15 Z" fill="#d0efc6" stroke="#8cc680" stroke-width="0.6" fill-opacity="0.9"/>
<path d="M124.64,512.80 L124.64,512.72 L124.98,512.71 L125.32,512.68 L125.67,512.65 L126.01,512.62 L126.35,512.57 L126.69,512.51 L127.04,512.42 L127.38,512.28 L127.72,512.06 L128.06,511.68 L128.40,511.06 L128.75,510.09 L129.09,508.72 L129.43,506.95 L129.77,504.92 L130.12,502.88 L130.46,501.16 L130.80,500.00 L131.14,501.16 L131.48,502.88 L131.83,504.92 L132.17,506.95 L132.51,508.72 L132.85,510.09 L133.20,511.06 L133.54,511.68 L133.88,512.06 L134.22,512.28 L134.56,512.42 L134.91,512.51 L135.25,512.57 L135.59,512.62 L135.93,512.65 L136.28,512.68 L136.62,512.71 L136.96,512.72 L136.96,512.80 Z" fill="#7dcb77" stroke="#2f7a2f" stroke-width="0.6" fill-opacity="0.9"/>
<line x1="145.24" y1="504.15" x2="172.05" y2="504.15" stroke="#d2d6d0" stroke-width="0.7"/>
<path d="M150.28,504.15 L150.28,504.11 L150.72,504.10 L151.16,504.09 L151.60,504.07 L152.04,504.05 L152.48,504.03 L152.92,503.99 L153.36,503.94 L153.80,503.86 L154.24,503.74 L154.68,503.53 L155.12,503.18 L155.56,502.64 L156.00,501.87 L156.44,500.88 L156.88,499.75 L157.32,498.61 L157.76,497.65 L158.20,497.00 L158.64,497.65 L159.08,498.61 L159.52,499.75 L159.96,500.88 L160.40,501.87 L160.84,502.64 L161.28,503.18 L161.72,503.53 L162.16,503.74 L162.60,503.86 L163.04,503.94 L163.48,503.99 L163.92,504.03 L164.36,504.05 L164.80,504.07 L165.24,504.09 L165.68,504.10 L166.12,504.11 L166.12,504.15 Z" fill="#d0efc6" stroke="#8cc680" stroke-width="0.6" fill-opacity="0.9"/>
<path d="M151.60,512.80 L151.60,512.73 L151.97,512.71 L152.33,512.69 L152.70,512.67 L153.07,512.63 L153.43,512.59 L153.80,512.53 L154.17,512.45 L154.53,512.32 L154.90,512.12 L155.27,511.77 L155.63,511.19 L156.00,510.31 L156.37,509.04 L156.73,507.41 L157.10,505.53 L157.47,503.66 L157.83,502.07 L158.20,501.00 L158.57,502.07 L158.93,503.66 L159.30,505.53 L159.67,507.41 L160.03,509.04 L160.40,510.31 L160.77,511.19 L161.13,511.77 L161.50,512.12 L161.87,512.32 L162.23,512.45 L162.60,512.53 L162.97,512.59 L163.33,512.63 L163.70,512.67 L164.07,512.69 L164.43,512.71 L164.80,512.73 L164.80,512.80 Z" fill="#7dcb77" stroke="#2f7a2f" stroke-width="0.6" fill-opacity="0.9"/>
<line x1="172.05" y1="504.15" x2="198.86" y2="504.15" stroke="#d2d6d0" stroke-width="0.7"/>
<path d="M178.76,504.15 L178.76,504.08 L179.15,504.06 L179.54,504.04 L179.93,504.01 L180.32,503.98 L180.72,503.94 L181.11,503.88 L181.50,503.79 L181.89,503.66 L182.28,503.44 L182.67,503.08 L183.06,502.49 L183.45,501.56 L183.84,500.25 L184.24,498.55 L184.63,496.61 L185.02,494.66 L185.41,493.01 L185.80,491.90 L186.19,493.01 L186.58,494.66 L186.97,496.61 L187.36,498.55 L187.76,500.25 L188.15,501.56 L188.54,502.49 L188.93,503.08 L189.32,503.44 L189.71,503.66 L190.10,503.79 L190.49,503.88 L190.88,503.94 L191.28,503.98 L191.67,504.01 L192.06,504.04 L192.45,504.06 L192.84,504.08 L192.84,504.15 Z" fill="#d0efc6" stroke="#8cc680" stroke-width="0.6" fill-opacity="0.9"/>
<path d="M179.64,512.80 L179.64,512.71 L179.98,512.68 L180.32,512.66 L180.67,512.62 L181.01,512.58 L181.35,512.52 L181.69,512.44 L182.04,512.33 L182.38,512.16 L182.72,511.88 L183.06,511.42 L183.40,510.65 L183.75,509.46 L184.09,507.77 L184.43,505.58 L184.77,503.07 L185.12,500.56 L185.46,498.43 L185.80,497.00 L186.14,498.43 L186.48,500.56 L186.83,503.07 L187.17,505.58 L187.51,507.77 L187.85,509.46 L188.20,510.65 L188.54,511.42 L188.88,511.88 L189.22,512.16 L189.56,512.33 L189.91,512.44 L190.25,512.52 L190.59,512.58 L190.93,512.62 L191.28,512.66 L191.62,512.68 L191.96,512.71 L191.96,512.80 Z" fill="#7dcb77" stroke="#2f7a2f" stroke-width="0.6" fill-opacity="0.9"/>
<line x1="198.86" y1="504.15" x2="225.67" y2="504.15" stroke="#d2d6d0" stroke-width="0.7"/>
<path d="M206.96,504.15 L206.96,504.09 L207.35,504.07 L207.74,504.05 L208.13,504.03 L208.52,504.00 L208.92,503.96 L209.31,503.91 L209.70,503.83 L210.09,503.71 L210.48,503.52 L210.87,503.19 L211.26,502.66 L211.65,501.84 L212.04,500.66 L212.44,499.15 L212.83,497.41 L213.22,495.67 L213.61,494.19 L214.00,493.20 L214.39,494.19 L214.78,495.67 L215.17,497.41 L215.56,499.15 L215.96,500.66 L216.35,501.84 L216.74,502.66 L217.13,503.19 L217.52,503.52 L217.91,503.71 L218.30,503.83 L218.69,503.91 L219.08,503.96 L219.48,504.00 L219.87,504.03 L220.26,504.05 L220.65,504.07 L221.04,504.09 L221.04,504.15 Z" fill="#d0efc6" stroke="#8cc680" stroke-width="0.6" fill-opacity="0.9"/>
<path d="M207.84,512.80 L207.84,512.71 L208.18,512.69 L208.52,512.66 L208.87,512.63 L209.21,512.59 L209.55,512.54 L209.89,512.46 L210.24,512.36 L210.58,512.20 L210.92,511.94 L211.26,511.50 L211.60,510.78 L211.95,509.67 L212.29,508.08 L212.63,506.04 L212.97,503.69 L213.32,501.34 L213.66,499.34 L214.00,498.00 L214.34,499.34 L214.68,501.34 L215.03,503.69 L215.37,506.04 L215.71,508.08 L216.05,509.67 L216.40,510.78 L216.74,511.50 L217.08,511.94 L217.42,512.20 L217.76,512.36 L218.11,512.46 L218.45,512.54 L218.79,512.59 L219.13,512.63 L219.48,512.66 L219.82,512.69 L220.16,512.71 L220.16,512.80 Z" fill="#7dcb77" stroke="#2f7a2f" stroke-width="0.6" fill-opacity="0.9"/>
<line x1="225.67" y1="504.15" x2="252.48" y2="504.15" stroke="#d2d6d0" stroke-width="0.7"/>
<path d="M242.86,504.15 L242.86,504.08 L243.01,504.07 L243.15,504.05 L243.30,504.02 L243.45,503.99 L243.59,503.94 L243.74,503.89 L243.89,503.81 L244.03,503.68 L244.18,503.47 L244.33,503.12 L244.47,502.55 L244.62,501.67 L244.77,500.41 L244.91,498.78 L245.06,496.92 L245.21,495.05 L245.35,493.47 L245.50,492.40 L245.65,493.47 L245.79,495.05 L245.94,496.92 L246.09,498.78 L246.23,500.41 L246.38,501.67 L246.53,502.55 L246.67,503.12 L246.82,503.47 L246.97,503.68 L247.11,503.81 L247.26,503.89 L247.41,503.94 L247.55,503.99 L247.70,504.02 L247.85,504.05 L247.99,504.07 L248.14,504.08 L248.14,504.15 Z" fill="#d0efc6" stroke="#8cc680" stroke-width="0.6" fill-opacity="0.9"/>
<path d="M242.86,512.80 L242.86,512.71 L243.01,512.68 L243.15,512.66 L243.30,512.62 L243.45,512.58 L243.59,512.52 L243.74,512.44 L243.89,512.33 L244.03,512.16 L244.18,511.88 L244.33,511.42 L244.47,510.65 L244.62,509.46 L244.77,507.77 L244.91,505.58 L245.06,503.07 L245.21,500.56 L245.35,498.43 L245.50,497.00 L245.65,498.43 L245.79,500.56 L245.94,503.07 L246.09,505.58 L246.23,507.77 L246.38,509.46 L246.53,510.65 L246.67,511.42 L246.82,511.88 L246.97,512.16 L247.11,512.33 L247.26,512.44 L247.41,512.52 L247.55,512.58 L247.70,512.62 L247.85,512.66 L247.99,512.68 L248.14,512.71 L248.14,512.80 Z" fill="#7dcb77" stroke="#2f7a2f" stroke-width="0.6" fill-opacity="0.9"/>
<line x1="252.48" y1="504.15" x2="279.29" y2="504.15" stroke="#d2d6d0" stroke-width="0.7"/>
<path d="M256.78,504.15 L256.78,504.10 L257.22,504.09 L257.66,504.08 L258.10,504.06 L258.54,504.04 L258.98,504.00 L259.42,503.96 L259.86,503.91 L260.30,503.82 L260.74,503.67 L261.18,503.42 L261.62,503.02 L262.06,502.39 L262.50,501.49 L262.94,500.34 L263.38,499.01 L263.82,497.68 L264.26,496.56 L264.70,495.80 L265.14,496.56 L265.58,497.68 L266.02,499.01 L266.46,500.34 L266.90,501.49 L267.34,502.39 L267.78,503.02 L268.22,503.42 L268.66,503.67 L269.10,503.82 L269.54,503.91 L269.98,503.96 L270.42,504.00 L270.86,504.04 L271.30,504.06 L271.74,504.08 L272.18,504.09 L272.62,504.10 L272.62,504.15 Z" fill="#d0efc6" stroke="#8cc680" stroke-width="0.6" fill-opacity="0.9"/>
<path d="M257.66,512.80 L257.66,512.72 L258.05,512.71 L258.44,512.68 L258.83,512.65 L259.22,512.62 L259.62,512.57 L260.01,512.51 L260.40,512.42 L260.79,512.28 L261.18,512.06 L261.57,511.68 L261.96,511.06 L262.35,510.09 L262.74,508.72 L263.14,506.95 L263.53,504.92 L263.92,502.88 L264.31,501.16 L264.70,500.00 L265.09,501.16 L265.48,502.88 L265.87,504.92 L266.26,506.95 L266.66,508.72 L267.05,510.09 L267.44,511.06 L267.83,511.68 L268.22,512.06 L268.61,512.28 L269.00,512.42 L269.39,512.51 L269.78,512.57 L270.18,512.62 L270.57,512.65 L270.96,512.68 L271.35,512.71 L271.74,512.72 L271.74,512.80 Z" fill="#7dcb77" stroke="#2f7a2f" stroke-width="0.6" fill-opacity="0.9"/>
<rect x="38.00" y="486.60" width="241.29" height="26.20" fill="none" stroke="#474747" stroke-width="1.2"/>
<line x1="64.81" y1="486.60" x2="64.81" y2="512.80" stroke="#4a4a4a" stroke-width="1.3" />
<line x1="91.62" y1="486.60" x2="91.62" y2="512.80" stroke="#4a4a4a" stroke-width="1.3" />
<line x1="118.43" y1="486.60" x2="118.43" y2="512.80" stroke="#4a4a4a" stroke-width="1.3" />
<line x1="145.24" y1="486.60" x2="145.24" y2="512.80" stroke="#4a4a4a" stroke-width="1.3" />
<line x1="172.05" y1="486.60" x2="172.05" y2="512.80" stroke="#4a4a4a" stroke-width="1.3" />
<line x1="198.86" y1="486.60" x2="198.86" y2="512.80" stroke="#4a4a4a" stroke-width="1.3" />
<line x1="225.67" y1="486.60" x2="225.67" y2="512.80" stroke="#4a4a4a" stroke-width="1.3" />
<line x1="252.48" y1="486.60" x2="252.48" y2="512.80" stroke="#4a4a4a" stroke-width="1.3" />
<text x="158.55" y="538.50" font-size="9.4" text-anchor="middle" font-weight="normal" font-style="normal" fill="#1a1a1a" >CD8 naive</text>
<text x="35.00" y="559.60" font-size="8" text-anchor="end" font-weight="normal" font-style="normal" fill="#1a1a1a" >Pre</text>
<text x="35.00" y="569.30" font-size="8" text-anchor="end" font-weight="normal" font-style="normal" fill="#1a1a1a" >Post</text>
<line x1="38.00" y1="561.92" x2="64.81" y2="561.92" stroke="#d8d4de" stroke-width="0.7"/>
<path d="M47.30,561.92 L47.30,561.84 L47.67,561.82 L48.03,561.80 L48.40,561.77 L48.77,561.73 L49.13,561.68 L49.50,561.62 L49.87,561.52 L50.23,561.38 L50.60,561.14 L50.97,560.75 L51.33,560.09 L51.70,559.08 L52.07,557.64 L52.43,555.79 L52.80,553.66 L53.17,551.52 L53.53,549.72 L53.90,548.50 L54.27,549.72 L54.63,551.52 L55.00,553.66 L55.37,555.79 L55.73,557.64 L56.10,559.08 L56.47,560.09 L56.83,560.75 L57.20,561.14 L57.57,561.38 L57.93,561.52 L58.30,561.62 L58.67,561.68 L59.03,561.73 L59.40,561.77 L59.77,561.80 L60.13,561.82 L60.50,561.84 L60.50,561.92 Z" fill="#e6e0f2" stroke="#bfb2da" stroke-width="0.6" fill-opacity="0.9"/>
<path d="M45.67,570.60 L45.67,570.53 L46.13,570.51 L46.59,570.49 L47.04,570.46 L47.50,570.42 L47.96,570.38 L48.41,570.32 L48.87,570.23 L49.33,570.10 L49.79,569.88 L50.24,569.51 L50.70,568.91 L51.16,567.98 L51.61,566.65 L52.07,564.93 L52.53,562.96 L52.99,560.99 L53.44,559.33 L53.90,558.20 L54.36,559.33 L54.81,560.99 L55.27,562.96 L55.73,564.93 L56.19,566.65 L56.64,567.98 L57.10,568.91 L57.56,569.51 L58.01,569.88 L58.47,570.10 L58.93,570.23 L59.39,570.32 L59.84,570.38 L60.30,570.42 L60.76,570.46 L61.21,570.49 L61.67,570.51 L62.13,570.53 L62.13,570.60 Z" fill="#7e6cb8" stroke="#2a1c50" stroke-width="0.6" fill-opacity="0.9"/>
<line x1="64.81" y1="561.92" x2="91.62" y2="561.92" stroke="#d8d4de" stroke-width="0.7"/>
<path d="M71.46,561.92 L71.46,561.88 L71.85,561.87 L72.24,561.86 L72.63,561.84 L73.02,561.82 L73.42,561.80 L73.81,561.76 L74.20,561.71 L74.59,561.64 L74.98,561.51 L75.37,561.31 L75.76,560.96 L76.15,560.44 L76.54,559.68 L76.94,558.71 L77.33,557.60 L77.72,556.48 L78.11,555.54 L78.50,554.90 L78.89,555.54 L79.28,556.48 L79.67,557.60 L80.06,558.71 L80.46,559.68 L80.85,560.44 L81.24,560.96 L81.63,561.31 L82.02,561.51 L82.41,561.64 L82.80,561.71 L83.19,561.76 L83.58,561.80 L83.98,561.82 L84.37,561.84 L84.76,561.86 L85.15,561.87 L85.54,561.88 L85.54,561.92 Z" fill="#e6e0f2" stroke="#bfb2da" stroke-width="0.6" fill-opacity="0.9"/>
<path d="M72.52,570.60 L72.52,570.51 L72.85,570.49 L73.18,570.46 L73.51,570.43 L73.85,570.38 L74.18,570.33 L74.51,570.25 L74.84,570.15 L75.18,569.99 L75.51,569.72 L75.84,569.27 L76.17,568.53 L76.51,567.39 L76.84,565.76 L77.17,563.65 L77.50,561.24 L77.84,558.83 L78.17,556.78 L78.50,555.40 L78.83,556.78 L79.16,558.83 L79.50,561.24 L79.83,563.65 L80.16,565.76 L80.49,567.39 L80.83,568.53 L81.16,569.27 L81.49,569.72 L81.82,569.99 L82.16,570.15 L82.49,570.25 L82.82,570.33 L83.15,570.38 L83.49,570.43 L83.82,570.46 L84.15,570.49 L84.48,570.51 L84.48,570.60 Z" fill="#7e6cb8" stroke="#2a1c50" stroke-width="0.6" fill-opacity="0.9"/>
<line x1="91.62" y1="561.92" x2="118.43" y2="561.92" stroke="#d8d4de" stroke-width="0.7"/>
<path d="M98.96,561.92 L98.96,561.85 L99.35,561.83 L99.74,561.81 L100.13,561.78 L100.52,561.74 L100.92,561.70 L101.31,561.64 L101.70,561.55 L102.09,561.42 L102.48,561.20 L102.87,560.83 L103.26,560.23 L103.65,559.30 L104.04,557.96 L104.44,556.24 L104.83,554.27 L105.22,552.30 L105.61,550.63 L106.00,549.50 L106.39,550.63 L106.78,552.30 L107.17,554.27 L107.56,556.24 L107.96,557.96 L108.35,559.30 L108.74,560.23 L109.13,560.83 L109.52,561.20 L109.91,561.42 L110.30,561.55 L110.69,561.64 L111.08,561.70 L111.48,561.74 L111.87,561.78 L112.26,561.81 L112.65,561.83 L113.04,561.85 L113.04,561.92 Z" fill="#e6e0f2" stroke="#bfb2da" stroke-width="0.6" fill-opacity="0.9"/>
<path d="M99.27,570.60 L99.27,570.51 L99.64,570.49 L100.02,570.47 L100.39,570.43 L100.76,570.39 L101.14,570.34 L101.51,570.27 L101.89,570.17 L102.26,570.01 L102.63,569.75 L103.01,569.32 L103.38,568.61 L103.76,567.51 L104.13,565.95 L104.50,563.93 L104.88,561.61 L105.25,559.29 L105.63,557.32 L106.00,556.00 L106.37,557.32 L106.75,559.29 L107.12,561.61 L107.50,563.93 L107.87,565.95 L108.24,567.51 L108.62,568.61 L108.99,569.32 L109.37,569.75 L109.74,570.01 L110.11,570.17 L110.49,570.27 L110.86,570.34 L111.24,570.39 L111.61,570.43 L111.98,570.47 L112.36,570.49 L112.73,570.51 L112.73,570.60 Z" fill="#7e6cb8" stroke="#2a1c50" stroke-width="0.6" fill-opacity="0.9"/>
<line x1="118.43" y1="561.92" x2="145.24" y2="561.92" stroke="#d8d4de" stroke-width="0.7"/>
<path d="M123.36,561.92 L123.36,561.88 L123.75,561.87 L124.14,561.85 L124.53,561.84 L124.92,561.82 L125.32,561.79 L125.71,561.75 L126.10,561.70 L126.49,561.62 L126.88,561.49 L127.27,561.27 L127.66,560.91 L128.05,560.35 L128.44,559.56 L128.84,558.53 L129.23,557.35 L129.62,556.17 L130.01,555.17 L130.40,554.50 L130.79,555.17 L131.18,556.17 L131.57,557.35 L131.96,558.53 L132.36,559.56 L132.75,560.35 L133.14,560.91 L133.53,561.27 L133.92,561.49 L134.31,561.62 L134.70,561.70 L135.09,561.75 L135.48,561.79 L135.88,561.82 L136.27,561.84 L136.66,561.85 L137.05,561.87 L137.44,561.88 L137.44,561.92 Z" fill="#e6e0f2" stroke="#bfb2da" stroke-width="0.6" fill-opacity="0.9"/>
<path d="M124.42,570.60 L124.42,570.54 L124.75,570.52 L125.08,570.51 L125.41,570.48 L125.75,570.45 L126.08,570.42 L126.41,570.37 L126.74,570.29 L127.08,570.18 L127.41,570.00 L127.74,569.70 L128.07,569.20 L128.41,568.42 L128.74,567.32 L129.07,565.89 L129.40,564.26 L129.74,562.62 L130.07,561.23 L130.40,560.30 L130.73,561.23 L131.06,562.62 L131.40,564.26 L131.73,565.89 L132.06,567.32 L132.39,568.42 L132.73,569.20 L133.06,569.70 L133.39,570.00 L133.72,570.18 L134.06,570.29 L134.39,570.37 L134.72,570.42 L135.05,570.45 L135.39,570.48 L135.72,570.51 L136.05,570.52 L136.38,570.54 L136.38,570.60 Z" fill="#7e6cb8" stroke="#2a1c50" stroke-width="0.6" fill-opacity="0.9"/>
<line x1="145.24" y1="561.92" x2="172.05" y2="561.92" stroke="#d8d4de" stroke-width="0.7"/>
<path d="M150.28,561.92 L150.28,561.86 L150.72,561.85 L151.16,561.83 L151.60,561.81 L152.04,561.78 L152.48,561.74 L152.92,561.70 L153.36,561.63 L153.80,561.52 L154.24,561.35 L154.68,561.05 L155.12,560.57 L155.56,559.82 L156.00,558.76 L156.44,557.39 L156.88,555.81 L157.32,554.24 L157.76,552.90 L158.20,552.00 L158.64,552.90 L159.08,554.24 L159.52,555.81 L159.96,557.39 L160.40,558.76 L160.84,559.82 L161.28,560.57 L161.72,561.05 L162.16,561.35 L162.60,561.52 L163.04,561.63 L163.48,561.70 L163.92,561.74 L164.36,561.78 L164.80,561.81 L165.24,561.83 L165.68,561.85 L166.12,561.86 L166.12,561.92 Z" fill="#e6e0f2" stroke="#bfb2da" stroke-width="0.6" fill-opacity="0.9"/>
<path d="M150.72,570.60 L150.72,570.52 L151.14,570.50 L151.55,570.47 L151.97,570.44 L152.38,570.40 L152.80,570.35 L153.21,570.28 L153.63,570.18 L154.04,570.03 L154.46,569.78 L154.88,569.36 L155.29,568.68 L155.71,567.62 L156.12,566.11 L156.54,564.16 L156.95,561.92 L157.37,559.68 L157.78,557.78 L158.20,556.50 L158.62,557.78 L159.03,559.68 L159.45,561.92 L159.86,564.16 L160.28,566.11 L160.69,567.62 L161.11,568.68 L161.52,569.36 L161.94,569.78 L162.36,570.03 L162.77,570.18 L163.19,570.28 L163.60,570.35 L164.02,570.40 L164.43,570.44 L164.85,570.47 L165.26,570.50 L165.68,570.52 L165.68,570.60 Z" fill="#7e6cb8" stroke="#2a1c50" stroke-width="0.6" fill-opacity="0.9"/>
<line x1="172.05" y1="561.92" x2="198.86" y2="561.92" stroke="#d8d4de" stroke-width="0.7"/>
<path d="M178.76,561.92 L178.76,561.86 L179.15,561.85 L179.54,561.83 L179.93,561.81 L180.32,561.78 L180.72,561.74 L181.11,561.70 L181.50,561.63 L181.89,561.52 L182.28,561.35 L182.67,561.05 L183.06,560.57 L183.45,559.82 L183.84,558.76 L184.24,557.39 L184.63,555.81 L185.02,554.24 L185.41,552.90 L185.80,552.00 L186.19,552.90 L186.58,554.24 L186.97,555.81 L187.36,557.39 L187.76,558.76 L188.15,559.82 L188.54,560.57 L188.93,561.05 L189.32,561.35 L189.71,561.52 L190.10,561.63 L190.49,561.70 L190.88,561.74 L191.28,561.78 L191.67,561.81 L192.06,561.83 L192.45,561.85 L192.84,561.86 L192.84,561.92 Z" fill="#e6e0f2" stroke="#bfb2da" stroke-width="0.6" fill-opacity="0.9"/>
<path d="M179.82,570.60 L179.82,570.51 L180.15,570.49 L180.48,570.47 L180.81,570.43 L181.15,570.39 L181.48,570.34 L181.81,570.27 L182.14,570.17 L182.48,570.01 L182.81,569.75 L183.14,569.32 L183.47,568.61 L183.81,567.51 L184.14,565.95 L184.47,563.93 L184.80,561.61 L185.14,559.29 L185.47,557.32 L185.80,556.00 L186.13,557.32 L186.46,559.29 L186.80,561.61 L187.13,563.93 L187.46,565.95 L187.79,567.51 L188.13,568.61 L188.46,569.32 L188.79,569.75 L189.12,570.01 L189.46,570.17 L189.79,570.27 L190.12,570.34 L190.45,570.39 L190.79,570.43 L191.12,570.47 L191.45,570.49 L191.78,570.51 L191.78,570.60 Z" fill="#7e6cb8" stroke="#2a1c50" stroke-width="0.6" fill-opacity="0.9"/>
<line x1="198.86" y1="561.92" x2="225.67" y2="561.92" stroke="#d8d4de" stroke-width="0.7"/>
<path d="M206.96,561.92 L206.96,561.86 L207.35,561.84 L207.74,561.82 L208.13,561.80 L208.52,561.77 L208.92,561.73 L209.31,561.68 L209.70,561.60 L210.09,561.49 L210.48,561.30 L210.87,560.98 L211.26,560.46 L211.65,559.65 L212.04,558.50 L212.44,557.02 L212.83,555.32 L213.22,553.62 L213.61,552.17 L214.00,551.20 L214.39,552.17 L214.78,553.62 L215.17,555.32 L215.56,557.02 L215.96,558.50 L216.35,559.65 L216.74,560.46 L217.13,560.98 L217.52,561.30 L217.91,561.49 L218.30,561.60 L218.69,561.68 L219.08,561.73 L219.48,561.77 L219.87,561.80 L220.26,561.82 L220.65,561.84 L221.04,561.86 L221.04,561.92 Z" fill="#e6e0f2" stroke="#bfb2da" stroke-width="0.6" fill-opacity="0.9"/>
<path d="M208.02,570.60 L208.02,570.51 L208.35,570.49 L208.68,570.47 L209.01,570.43 L209.35,570.39 L209.68,570.34 L210.01,570.27 L210.34,570.17 L210.68,570.01 L211.01,569.75 L211.34,569.32 L211.67,568.61 L212.01,567.51 L212.34,565.95 L212.67,563.93 L213.00,561.61 L213.34,559.29 L213.67,557.32 L214.00,556.00 L214.33,557.32 L214.66,559.29 L215.00,561.61 L215.33,563.93 L215.66,565.95 L215.99,567.51 L216.33,568.61 L216.66,569.32 L216.99,569.75 L217.32,570.01 L217.66,570.17 L217.99,570.27 L218.32,570.34 L218.65,570.39 L218.99,570.43 L219.32,570.47 L219.65,570.49 L219.98,570.51 L219.98,570.60 Z" fill="#7e6cb8" stroke="#2a1c50" stroke-width="0.6" fill-opacity="0.9"/>
<line x1="225.67" y1="561.92" x2="252.48" y2="561.92" stroke="#d8d4de" stroke-width="0.7"/>
<path d="M242.36,561.92 L242.36,561.85 L242.51,561.84 L242.65,561.82 L242.80,561.79 L242.95,561.76 L243.09,561.72 L243.24,561.66 L243.39,561.58 L243.53,561.46 L243.68,561.25 L243.83,560.91 L243.97,560.35 L244.12,559.49 L244.27,558.25 L244.41,556.66 L244.56,554.83 L244.71,553.00 L244.85,551.45 L245.00,550.40 L245.15,551.45 L245.29,553.00 L245.44,554.83 L245.59,556.66 L245.73,558.25 L245.88,559.49 L246.03,560.35 L246.17,560.91 L246.32,561.25 L246.47,561.46 L246.61,561.58 L246.76,561.66 L246.91,561.72 L247.05,561.76 L247.20,561.79 L247.35,561.82 L247.49,561.84 L247.64,561.85 L247.64,561.92 Z" fill="#e6e0f2" stroke="#bfb2da" stroke-width="0.6" fill-opacity="0.9"/>
<path d="M242.38,570.60 L242.38,570.49 L242.53,570.46 L242.67,570.43 L242.82,570.39 L242.96,570.34 L243.11,570.27 L243.25,570.18 L243.40,570.05 L243.55,569.85 L243.69,569.52 L243.84,568.97 L243.98,568.07 L244.13,566.67 L244.27,564.67 L244.42,562.10 L244.56,559.15 L244.71,556.19 L244.85,553.69 L245.00,552.00 L245.15,553.69 L245.29,556.19 L245.44,559.15 L245.58,562.10 L245.73,564.67 L245.87,566.67 L246.02,568.07 L246.16,568.97 L246.31,569.52 L246.45,569.85 L246.60,570.05 L246.75,570.18 L246.89,570.27 L247.04,570.34 L247.18,570.39 L247.33,570.43 L247.47,570.46 L247.62,570.49 L247.62,570.60 Z" fill="#7e6cb8" stroke="#2a1c50" stroke-width="0.6" fill-opacity="0.9"/>
<line x1="252.48" y1="561.92" x2="279.29" y2="561.92" stroke="#d8d4de" stroke-width="0.7"/>
<path d="M255.02,561.92 L255.02,561.87 L255.56,561.86 L256.10,561.85 L256.63,561.83 L257.17,561.81 L257.71,561.78 L258.25,561.74 L258.78,561.68 L259.32,561.59 L259.86,561.45 L260.40,561.21 L260.94,560.82 L261.47,560.20 L262.01,559.33 L262.55,558.21 L263.09,556.92 L263.62,555.63 L264.16,554.54 L264.70,553.80 L265.24,554.54 L265.78,555.63 L266.31,556.92 L266.85,558.21 L267.39,559.33 L267.93,560.20 L268.46,560.82 L269.00,561.21 L269.54,561.45 L270.08,561.59 L270.62,561.68 L271.15,561.74 L271.69,561.78 L272.23,561.81 L272.77,561.83 L273.30,561.85 L273.84,561.86 L274.38,561.87 L274.38,561.92 Z" fill="#e6e0f2" stroke="#bfb2da" stroke-width="0.6" fill-opacity="0.9"/>
<path d="M255.72,570.60 L255.72,570.54 L256.22,570.53 L256.72,570.51 L257.22,570.48 L257.72,570.46 L258.22,570.42 L258.72,570.37 L259.21,570.30 L259.71,570.19 L260.21,570.01 L260.71,569.71 L261.21,569.21 L261.71,568.44 L262.21,567.35 L262.71,565.94 L263.20,564.32 L263.70,562.70 L264.20,561.33 L264.70,560.40 L265.20,561.33 L265.70,562.70 L266.20,564.32 L266.69,565.94 L267.19,567.35 L267.69,568.44 L268.19,569.21 L268.69,569.71 L269.19,570.01 L269.69,570.19 L270.19,570.30 L270.68,570.37 L271.18,570.42 L271.68,570.46 L272.18,570.48 L272.68,570.51 L273.18,570.53 L273.68,570.54 L273.68,570.60 Z" fill="#7e6cb8" stroke="#2a1c50" stroke-width="0.6" fill-opacity="0.9"/>
<rect x="38.00" y="544.30" width="241.29" height="26.30" fill="none" stroke="#474747" stroke-width="1.2"/>
<line x1="64.81" y1="544.30" x2="64.81" y2="570.60" stroke="#4a4a4a" stroke-width="1.3" />
<line x1="91.62" y1="544.30" x2="91.62" y2="570.60" stroke="#4a4a4a" stroke-width="1.3" />
<line x1="118.43" y1="544.30" x2="118.43" y2="570.60" stroke="#4a4a4a" stroke-width="1.3" />
<line x1="145.24" y1="544.30" x2="145.24" y2="570.60" stroke="#4a4a4a" stroke-width="1.3" />
<line x1="172.05" y1="544.30" x2="172.05" y2="570.60" stroke="#4a4a4a" stroke-width="1.3" />
<line x1="198.86" y1="544.30" x2="198.86" y2="570.60" stroke="#4a4a4a" stroke-width="1.3" />
<line x1="225.67" y1="544.30" x2="225.67" y2="570.60" stroke="#4a4a4a" stroke-width="1.3" />
<line x1="252.48" y1="544.30" x2="252.48" y2="570.60" stroke="#4a4a4a" stroke-width="1.3" />
<text x="158.55" y="595.40" font-size="9.4" text-anchor="middle" font-weight="normal" font-style="normal" fill="#1a1a1a" >CD8 memory</text>
<text x="35.00" y="615.60" font-size="8" text-anchor="end" font-weight="normal" font-style="normal" fill="#1a1a1a" >Pre</text>
<text x="35.00" y="625.30" font-size="8" text-anchor="end" font-weight="normal" font-style="normal" fill="#1a1a1a" >Post</text>
<line x1="38.00" y1="617.79" x2="64.81" y2="617.79" stroke="#d8d4de" stroke-width="0.7"/>
<path d="M40.94,617.79 L40.94,617.74 L41.53,617.73 L42.11,617.71 L42.70,617.70 L43.29,617.67 L43.87,617.65 L44.46,617.61 L45.05,617.55 L45.63,617.47 L46.22,617.33 L46.81,617.10 L47.39,616.71 L47.98,616.12 L48.57,615.27 L49.15,614.18 L49.74,612.93 L50.33,611.68 L50.91,610.62 L51.50,609.90 L52.09,610.62 L52.67,611.68 L53.26,612.93 L53.85,614.18 L54.43,615.27 L55.02,616.12 L55.61,616.71 L56.19,617.10 L56.78,617.33 L57.37,617.47 L57.95,617.55 L58.54,617.61 L59.13,617.65 L59.71,617.67 L60.30,617.70 L60.89,617.71 L61.47,617.73 L62.06,617.74 L62.06,617.79 Z" fill="#e6e0f2" stroke="#bfb2da" stroke-width="0.6" fill-opacity="0.9"/>
<path d="M43.27,626.40 L43.27,626.34 L43.73,626.33 L44.19,626.31 L44.64,626.29 L45.10,626.26 L45.56,626.22 L46.01,626.17 L46.47,626.10 L46.93,625.99 L47.39,625.81 L47.84,625.52 L48.30,625.02 L48.76,624.27 L49.21,623.18 L49.67,621.78 L50.13,620.18 L50.59,618.58 L51.04,617.22 L51.50,616.30 L51.96,617.22 L52.41,618.58 L52.87,620.18 L53.33,621.78 L53.79,623.18 L54.24,624.27 L54.70,625.02 L55.16,625.52 L55.61,625.81 L56.07,625.99 L56.53,626.10 L56.99,626.17 L57.44,626.22 L57.90,626.26 L58.36,626.29 L58.81,626.31 L59.27,626.33 L59.73,626.34 L59.73,626.40 Z" fill="#7e6cb8" stroke="#2a1c50" stroke-width="0.6" fill-opacity="0.9"/>
<line x1="64.81" y1="617.79" x2="91.62" y2="617.79" stroke="#d8d4de" stroke-width="0.7"/>
<path d="M68.60,617.79 L68.60,617.75 L69.09,617.74 L69.58,617.72 L70.07,617.71 L70.56,617.69 L71.04,617.67 L71.53,617.63 L72.02,617.59 L72.51,617.51 L73.00,617.39 L73.49,617.19 L73.98,616.86 L74.47,616.35 L74.96,615.62 L75.44,614.69 L75.93,613.61 L76.42,612.53 L76.91,611.62 L77.40,611.00 L77.89,611.62 L78.38,612.53 L78.87,613.61 L79.36,614.69 L79.84,615.62 L80.33,616.35 L80.82,616.86 L81.31,617.19 L81.80,617.39 L82.29,617.51 L82.78,617.59 L83.27,617.63 L83.76,617.67 L84.24,617.69 L84.73,617.71 L85.22,617.72 L85.71,617.74 L86.20,617.75 L86.20,617.79 Z" fill="#e6e0f2" stroke="#bfb2da" stroke-width="0.6" fill-opacity="0.9"/>
<path d="M70.29,626.40 L70.29,626.32 L70.69,626.29 L71.08,626.27 L71.48,626.24 L71.87,626.20 L72.27,626.14 L72.66,626.07 L73.06,625.97 L73.45,625.82 L73.85,625.56 L74.24,625.14 L74.64,624.44 L75.03,623.36 L75.43,621.81 L75.82,619.82 L76.22,617.53 L76.61,615.24 L77.01,613.31 L77.40,612.00 L77.79,613.31 L78.19,615.24 L78.58,617.53 L78.98,619.82 L79.37,621.81 L79.77,623.36 L80.16,624.44 L80.56,625.14 L80.95,625.56 L81.35,625.82 L81.74,625.97 L82.14,626.07 L82.53,626.14 L82.93,626.20 L83.32,626.24 L83.72,626.27 L84.11,626.29 L84.51,626.32 L84.51,626.40 Z" fill="#7e6cb8" stroke="#2a1c50" stroke-width="0.6" fill-opacity="0.9"/>
<line x1="91.62" y1="617.79" x2="118.43" y2="617.79" stroke="#d8d4de" stroke-width="0.7"/>
<path d="M98.08,617.79 L98.08,617.73 L98.52,617.72 L98.96,617.70 L99.40,617.68 L99.84,617.65 L100.28,617.62 L100.72,617.57 L101.16,617.51 L101.60,617.40 L102.04,617.24 L102.48,616.96 L102.92,616.50 L103.36,615.78 L103.80,614.76 L104.24,613.45 L104.68,611.95 L105.12,610.44 L105.56,609.16 L106.00,608.30 L106.44,609.16 L106.88,610.44 L107.32,611.95 L107.76,613.45 L108.20,614.76 L108.64,615.78 L109.08,616.50 L109.52,616.96 L109.96,617.24 L110.40,617.40 L110.84,617.51 L111.28,617.57 L111.72,617.62 L112.16,617.65 L112.60,617.68 L113.04,617.70 L113.48,617.72 L113.92,617.73 L113.92,617.79 Z" fill="#e6e0f2" stroke="#bfb2da" stroke-width="0.6" fill-opacity="0.9"/>
<path d="M99.27,626.40 L99.27,626.34 L99.64,626.33 L100.02,626.31 L100.39,626.29 L100.76,626.26 L101.14,626.22 L101.51,626.17 L101.89,626.10 L102.26,625.99 L102.63,625.81 L103.01,625.52 L103.38,625.02 L103.76,624.27 L104.13,623.18 L104.50,621.78 L104.88,620.18 L105.25,618.58 L105.63,617.22 L106.00,616.30 L106.37,617.22 L106.75,618.58 L107.12,620.18 L107.50,621.78 L107.87,623.18 L108.24,624.27 L108.62,625.02 L108.99,625.52 L109.37,625.81 L109.74,625.99 L110.11,626.10 L110.49,626.17 L110.86,626.22 L111.24,626.26 L111.61,626.29 L111.98,626.31 L112.36,626.33 L112.73,626.34 L112.73,626.40 Z" fill="#7e6cb8" stroke="#2a1c50" stroke-width="0.6" fill-opacity="0.9"/>
<line x1="118.43" y1="617.79" x2="145.24" y2="617.79" stroke="#d8d4de" stroke-width="0.7"/>
<path d="M121.88,617.79 L121.88,617.74 L122.32,617.72 L122.76,617.71 L123.20,617.69 L123.64,617.67 L124.08,617.63 L124.52,617.59 L124.96,617.53 L125.40,617.44 L125.84,617.29 L126.28,617.03 L126.72,616.62 L127.16,615.97 L127.60,615.05 L128.04,613.86 L128.48,612.50 L128.92,611.14 L129.36,609.98 L129.80,609.20 L130.24,609.98 L130.68,611.14 L131.12,612.50 L131.56,613.86 L132.00,615.05 L132.44,615.97 L132.88,616.62 L133.32,617.03 L133.76,617.29 L134.20,617.44 L134.64,617.53 L135.08,617.59 L135.52,617.63 L135.96,617.67 L136.40,617.69 L136.84,617.71 L137.28,617.72 L137.72,617.74 L137.72,617.79 Z" fill="#e6e0f2" stroke="#bfb2da" stroke-width="0.6" fill-opacity="0.9"/>
<path d="M123.44,626.40 L123.44,626.33 L123.80,626.32 L124.15,626.30 L124.50,626.27 L124.85,626.24 L125.21,626.20 L125.56,626.15 L125.91,626.07 L126.27,625.95 L126.62,625.75 L126.97,625.42 L127.33,624.87 L127.68,624.03 L128.03,622.83 L128.39,621.28 L128.74,619.50 L129.09,617.72 L129.45,616.22 L129.80,615.20 L130.15,616.22 L130.51,617.72 L130.86,619.50 L131.21,621.28 L131.57,622.83 L131.92,624.03 L132.27,624.87 L132.63,625.42 L132.98,625.75 L133.33,625.95 L133.69,626.07 L134.04,626.15 L134.39,626.20 L134.75,626.24 L135.10,626.27 L135.45,626.30 L135.80,626.32 L136.16,626.33 L136.16,626.40 Z" fill="#7e6cb8" stroke="#2a1c50" stroke-width="0.6" fill-opacity="0.9"/>
<line x1="145.24" y1="617.79" x2="172.05" y2="617.79" stroke="#d8d4de" stroke-width="0.7"/>
<path d="M147.04,617.79 L147.04,617.73 L147.63,617.72 L148.21,617.70 L148.80,617.68 L149.39,617.66 L149.97,617.62 L150.56,617.58 L151.15,617.51 L151.73,617.41 L152.32,617.25 L152.91,616.97 L153.49,616.52 L154.08,615.82 L154.67,614.83 L155.25,613.54 L155.84,612.07 L156.43,610.59 L157.01,609.34 L157.60,608.50 L158.19,609.34 L158.77,610.59 L159.36,612.07 L159.95,613.54 L160.53,614.83 L161.12,615.82 L161.71,616.52 L162.29,616.97 L162.88,617.25 L163.47,617.41 L164.05,617.51 L164.64,617.58 L165.23,617.62 L165.81,617.66 L166.40,617.68 L166.99,617.70 L167.57,617.72 L168.16,617.73 L168.16,617.79 Z" fill="#e6e0f2" stroke="#bfb2da" stroke-width="0.6" fill-opacity="0.9"/>
<path d="M150.12,626.40 L150.12,626.36 L150.54,626.35 L150.95,626.33 L151.37,626.32 L151.78,626.29 L152.20,626.27 L152.61,626.23 L153.03,626.18 L153.44,626.10 L153.86,625.97 L154.28,625.75 L154.69,625.39 L155.11,624.84 L155.52,624.04 L155.94,623.02 L156.35,621.84 L156.77,620.67 L157.18,619.67 L157.60,619.00 L158.02,619.67 L158.43,620.67 L158.85,621.84 L159.26,623.02 L159.68,624.04 L160.09,624.84 L160.51,625.39 L160.92,625.75 L161.34,625.97 L161.76,626.10 L162.17,626.18 L162.59,626.23 L163.00,626.27 L163.42,626.29 L163.83,626.32 L164.25,626.33 L164.66,626.35 L165.08,626.36 L165.08,626.40 Z" fill="#7e6cb8" stroke="#2a1c50" stroke-width="0.6" fill-opacity="0.9"/>
<line x1="172.05" y1="617.79" x2="198.86" y2="617.79" stroke="#d8d4de" stroke-width="0.7"/>
<path d="M177.00,617.79 L177.00,617.72 L177.49,617.71 L177.98,617.69 L178.47,617.66 L178.96,617.63 L179.44,617.59 L179.93,617.54 L180.42,617.46 L180.91,617.34 L181.40,617.14 L181.89,616.82 L182.38,616.28 L182.87,615.44 L183.36,614.25 L183.84,612.72 L184.33,610.96 L184.82,609.20 L185.31,607.71 L185.80,606.70 L186.29,607.71 L186.78,609.20 L187.27,610.96 L187.76,612.72 L188.24,614.25 L188.73,615.44 L189.22,616.28 L189.71,616.82 L190.20,617.14 L190.69,617.34 L191.18,617.46 L191.67,617.54 L192.16,617.59 L192.64,617.63 L193.13,617.66 L193.62,617.69 L194.11,617.71 L194.60,617.72 L194.60,617.79 Z" fill="#e6e0f2" stroke="#bfb2da" stroke-width="0.6" fill-opacity="0.9"/>
<path d="M179.07,626.40 L179.07,626.33 L179.44,626.31 L179.82,626.28 L180.19,626.26 L180.56,626.22 L180.94,626.18 L181.31,626.11 L181.69,626.03 L182.06,625.89 L182.43,625.67 L182.81,625.30 L183.18,624.68 L183.56,623.74 L183.93,622.39 L184.30,620.64 L184.68,618.64 L185.05,616.64 L185.43,614.94 L185.80,613.80 L186.17,614.94 L186.55,616.64 L186.92,618.64 L187.30,620.64 L187.67,622.39 L188.04,623.74 L188.42,624.68 L188.79,625.30 L189.17,625.67 L189.54,625.89 L189.91,626.03 L190.29,626.11 L190.66,626.18 L191.04,626.22 L191.41,626.26 L191.78,626.28 L192.16,626.31 L192.53,626.33 L192.53,626.40 Z" fill="#7e6cb8" stroke="#2a1c50" stroke-width="0.6" fill-opacity="0.9"/>
<line x1="198.86" y1="617.79" x2="225.67" y2="617.79" stroke="#d8d4de" stroke-width="0.7"/>
<path d="M204.98,617.79 L204.98,617.73 L205.42,617.72 L205.86,617.70 L206.30,617.68 L206.74,617.66 L207.18,617.62 L207.62,617.58 L208.06,617.51 L208.50,617.41 L208.94,617.25 L209.38,616.97 L209.82,616.52 L210.26,615.82 L210.70,614.83 L211.14,613.54 L211.58,612.07 L212.02,610.59 L212.46,609.34 L212.90,608.50 L213.34,609.34 L213.78,610.59 L214.22,612.07 L214.66,613.54 L215.10,614.83 L215.54,615.82 L215.98,616.52 L216.42,616.97 L216.86,617.25 L217.30,617.41 L217.74,617.51 L218.18,617.58 L218.62,617.62 L219.06,617.66 L219.50,617.68 L219.94,617.70 L220.38,617.72 L220.82,617.73 L220.82,617.79 Z" fill="#e6e0f2" stroke="#bfb2da" stroke-width="0.6" fill-opacity="0.9"/>
<path d="M206.92,626.40 L206.92,626.33 L207.25,626.31 L207.58,626.28 L207.91,626.26 L208.25,626.22 L208.58,626.18 L208.91,626.11 L209.24,626.03 L209.58,625.89 L209.91,625.67 L210.24,625.30 L210.57,624.68 L210.91,623.74 L211.24,622.39 L211.57,620.64 L211.90,618.64 L212.24,616.64 L212.57,614.94 L212.90,613.80 L213.23,614.94 L213.56,616.64 L213.90,618.64 L214.23,620.64 L214.56,622.39 L214.89,623.74 L215.23,624.68 L215.56,625.30 L215.89,625.67 L216.22,625.89 L216.56,626.03 L216.89,626.11 L217.22,626.18 L217.55,626.22 L217.89,626.26 L218.22,626.28 L218.55,626.31 L218.88,626.33 L218.88,626.40 Z" fill="#7e6cb8" stroke="#2a1c50" stroke-width="0.6" fill-opacity="0.9"/>
<line x1="225.67" y1="617.79" x2="252.48" y2="617.79" stroke="#d8d4de" stroke-width="0.7"/>
<path d="M238.42,617.79 L238.42,617.73 L238.71,617.72 L239.01,617.70 L239.30,617.68 L239.59,617.65 L239.89,617.61 L240.18,617.56 L240.47,617.50 L240.77,617.39 L241.06,617.22 L241.35,616.93 L241.65,616.45 L241.94,615.72 L242.23,614.67 L242.53,613.31 L242.82,611.76 L243.11,610.21 L243.41,608.89 L243.70,608.00 L243.99,608.89 L244.29,610.21 L244.58,611.76 L244.87,613.31 L245.17,614.67 L245.46,615.72 L245.75,616.45 L246.05,616.93 L246.34,617.22 L246.63,617.39 L246.93,617.50 L247.22,617.56 L247.51,617.61 L247.81,617.65 L248.10,617.68 L248.39,617.70 L248.69,617.72 L248.98,617.73 L248.98,617.79 Z" fill="#e6e0f2" stroke="#bfb2da" stroke-width="0.6" fill-opacity="0.9"/>
<path d="M239.21,626.40 L239.21,626.33 L239.46,626.31 L239.71,626.28 L239.96,626.26 L240.21,626.22 L240.46,626.18 L240.71,626.11 L240.96,626.03 L241.21,625.89 L241.46,625.67 L241.71,625.30 L241.95,624.68 L242.20,623.74 L242.45,622.39 L242.70,620.64 L242.95,618.64 L243.20,616.64 L243.45,614.94 L243.70,613.80 L243.95,614.94 L244.20,616.64 L244.45,618.64 L244.70,620.64 L244.95,622.39 L245.20,623.74 L245.45,624.68 L245.69,625.30 L245.94,625.67 L246.19,625.89 L246.44,626.03 L246.69,626.11 L246.94,626.18 L247.19,626.22 L247.44,626.26 L247.69,626.28 L247.94,626.31 L248.19,626.33 L248.19,626.40 Z" fill="#7e6cb8" stroke="#2a1c50" stroke-width="0.6" fill-opacity="0.9"/>
<line x1="252.48" y1="617.79" x2="279.29" y2="617.79" stroke="#d8d4de" stroke-width="0.7"/>
<path d="M252.98,617.79 L252.98,617.74 L253.56,617.73 L254.15,617.72 L254.73,617.70 L255.31,617.68 L255.89,617.65 L256.48,617.62 L257.06,617.56 L257.64,617.48 L258.22,617.34 L258.81,617.11 L259.39,616.73 L259.97,616.16 L260.56,615.36 L261.14,614.34 L261.72,613.20 L262.30,612.08 L262.89,611.15 L263.47,610.66 L264.05,611.35 L264.64,612.34 L265.22,613.48 L265.80,614.60 L266.38,615.57 L266.97,616.32 L267.55,616.84 L268.13,617.17 L268.71,617.38 L269.30,617.50 L269.88,617.58 L270.46,617.63 L271.05,617.66 L271.63,617.69 L272.21,617.71 L272.79,617.72 L273.38,617.73 L273.96,617.74 L273.96,617.79 Z" fill="#e6e0f2" stroke="#bfb2da" stroke-width="0.6" fill-opacity="0.9"/>
<path d="M254.42,626.40 L254.42,626.36 L254.92,626.35 L255.42,626.34 L255.92,626.32 L256.42,626.30 L256.92,626.28 L257.42,626.25 L257.91,626.20 L258.41,626.13 L258.91,626.01 L259.41,625.80 L259.91,625.47 L260.41,624.96 L260.91,624.23 L261.41,623.29 L261.90,622.21 L262.40,621.13 L262.90,620.22 L263.40,619.60 L263.90,620.22 L264.40,621.13 L264.90,622.21 L265.39,623.29 L265.89,624.23 L266.39,624.96 L266.89,625.47 L267.39,625.80 L267.89,626.01 L268.39,626.13 L268.89,626.20 L269.38,626.25 L269.88,626.28 L270.38,626.30 L270.88,626.32 L271.38,626.34 L271.88,626.35 L272.38,626.36 L272.38,626.40 Z" fill="#7e6cb8" stroke="#2a1c50" stroke-width="0.6" fill-opacity="0.9"/>
<rect x="38.00" y="600.30" width="241.29" height="26.10" fill="none" stroke="#474747" stroke-width="1.2"/>
<line x1="64.81" y1="600.30" x2="64.81" y2="626.40" stroke="#4a4a4a" stroke-width="1.3" />
<line x1="91.62" y1="600.30" x2="91.62" y2="626.40" stroke="#4a4a4a" stroke-width="1.3" />
<line x1="118.43" y1="600.30" x2="118.43" y2="626.40" stroke="#4a4a4a" stroke-width="1.3" />
<line x1="145.24" y1="600.30" x2="145.24" y2="626.40" stroke="#4a4a4a" stroke-width="1.3" />
<line x1="172.05" y1="600.30" x2="172.05" y2="626.40" stroke="#4a4a4a" stroke-width="1.3" />
<line x1="198.86" y1="600.30" x2="198.86" y2="626.40" stroke="#4a4a4a" stroke-width="1.3" />
<line x1="225.67" y1="600.30" x2="225.67" y2="626.40" stroke="#4a4a4a" stroke-width="1.3" />
<line x1="252.48" y1="600.30" x2="252.48" y2="626.40" stroke="#4a4a4a" stroke-width="1.3" />
<text transform="translate(52.30,636.6) rotate(-45)" font-size="8" text-anchor="end" fill="#222">BCL-2</text>
<text transform="translate(79.12,636.6) rotate(-45)" font-size="8" text-anchor="end" fill="#222">MCL-1</text>
<text transform="translate(105.92,636.6) rotate(-45)" font-size="8" text-anchor="end" fill="#222">BCL-XL</text>
<text transform="translate(132.73,636.6) rotate(-45)" font-size="8" text-anchor="end" fill="#222">CTLA-4</text>
<text transform="translate(159.54,636.6) rotate(-45)" font-size="8" text-anchor="end" fill="#222">PD-1</text>
<text transform="translate(186.35,636.6) rotate(-45)" font-size="8" text-anchor="end" fill="#222">TIM3</text>
<text transform="translate(213.16,636.6) rotate(-45)" font-size="8" text-anchor="end" fill="#222">PD-L1</text>
<text transform="translate(239.97,636.6) rotate(-45)" font-size="8" text-anchor="end" fill="#222">CD27</text>
<text transform="translate(266.78,636.6) rotate(-45)" font-size="8" text-anchor="end" fill="#222">OX40</text>
<text x="293.30" y="409.50" font-size="11.2" text-anchor="start" font-weight="bold" font-style="normal" fill="#1a1a1a" style="stroke-width:0.35px">D</text>
<text x="423.80" y="428.80" font-size="10" text-anchor="middle" font-weight="normal" font-style="normal" fill="#1a1a1a" >CD4</text>
<text x="366.30" y="441.80" font-size="8.3" text-anchor="middle" font-weight="normal" font-style="normal" fill="#1a1a1a" >Apoptosis</text>
<text x="455.40" y="441.80" font-size="8.3" text-anchor="middle" font-weight="normal" font-style="normal" fill="#1a1a1a" >Checkpoint</text>
<line x1="334.70" y1="488.90" x2="512.90" y2="488.90" stroke="#999" stroke-width="0.7" stroke-dasharray="0.9,1.3"/>
<line x1="345.90" y1="452.50" x2="345.90" y2="483.00" stroke="#555" stroke-width="0.9"/>
<circle cx="345.90" cy="452.50" r="0.85" fill="#222"/>
<line x1="345.90" y1="476.80" x2="345.90" y2="483.00" stroke="#333" stroke-width="0.8"/>
<path d="M343.20,476.80 Q345.90,476.80 345.90,474.10 Q345.90,476.80 348.60,476.80 Q345.90,476.80 345.90,479.50 Q345.90,476.80 343.20,476.80 Z" fill="none" stroke="#222" stroke-width="0.7"/>
<path d="M343.20,476.80 L345.90,474.10 L348.60,476.80 L345.90,479.50 Z" fill="#bbb" stroke="#333" stroke-width="0.6"/>
<path d="M345.90,482.50 C347.89,484.84 351.60,486.50 351.60,487.70 C351.60,489.20 347.61,492.15 345.90,496.60 C344.19,492.15 340.20,489.20 340.20,487.70 C340.20,486.50 343.90,484.84 345.90,482.50 Z" fill="#e4e4e4" stroke="#111" stroke-width="1.1" stroke-linejoin="round"/>
<circle cx="347.05" cy="489.00" r="0.55" fill="#222"/>
<circle cx="346.10" cy="486.08" r="0.55" fill="#222"/>
<circle cx="345.88" cy="483.92" r="0.55" fill="#222"/>
<circle cx="347.16" cy="487.92" r="0.55" fill="#222"/>
<circle cx="343.63" cy="488.14" r="0.55" fill="#222"/>
<circle cx="347.28" cy="486.95" r="0.55" fill="#222"/>
<circle cx="344.02" cy="490.80" r="0.55" fill="#222"/>
<circle cx="344.12" cy="484.04" r="0.55" fill="#222"/>
<circle cx="344.24" cy="490.55" r="0.55" fill="#222"/>
<circle cx="344.08" cy="487.66" r="0.55" fill="#222"/>
<circle cx="344.78" cy="483.75" r="0.55" fill="#222"/>
<circle cx="346.95" cy="483.77" r="0.55" fill="#222"/>
<circle cx="344.87" cy="491.02" r="0.55" fill="#222"/>
<circle cx="347.42" cy="490.43" r="0.55" fill="#222"/>
<line x1="363.30" y1="464.20" x2="363.30" y2="480.90" stroke="#555" stroke-width="0.9"/>
<circle cx="363.30" cy="464.20" r="0.85" fill="#222"/>
<line x1="363.30" y1="467.90" x2="363.30" y2="480.90" stroke="#333" stroke-width="0.8"/>
<path d="M361.20,467.90 Q363.30,467.90 363.30,465.80 Q363.30,467.90 365.40,467.90 Q363.30,467.90 363.30,470.00 Q363.30,467.90 361.20,467.90 Z" fill="none" stroke="#222" stroke-width="0.7"/>
<path d="M361.20,467.90 L363.30,465.80 L365.40,467.90 L363.30,470.00 Z" fill="#bbb" stroke="#333" stroke-width="0.6"/>
<path d="M363.30,480.40 C365.30,483.82 369.00,486.80 369.00,488.00 C369.00,489.50 365.01,492.10 363.30,496.20 C361.59,492.10 357.60,489.50 357.60,488.00 C357.60,486.80 361.31,483.82 363.30,480.40 Z" fill="#e4e4e4" stroke="#111" stroke-width="1.1" stroke-linejoin="round"/>
<circle cx="364.14" cy="484.28" r="0.55" fill="#222"/>
<circle cx="363.77" cy="489.75" r="0.55" fill="#222"/>
<circle cx="364.91" cy="492.66" r="0.55" fill="#222"/>
<circle cx="363.65" cy="488.00" r="0.55" fill="#222"/>
<circle cx="364.04" cy="492.32" r="0.55" fill="#222"/>
<circle cx="363.32" cy="489.39" r="0.55" fill="#222"/>
<circle cx="361.28" cy="490.98" r="0.55" fill="#222"/>
<circle cx="363.74" cy="489.19" r="0.55" fill="#222"/>
<circle cx="363.33" cy="491.55" r="0.55" fill="#222"/>
<circle cx="362.76" cy="485.33" r="0.55" fill="#222"/>
<circle cx="362.57" cy="487.42" r="0.55" fill="#222"/>
<circle cx="362.40" cy="486.36" r="0.55" fill="#222"/>
<circle cx="362.33" cy="484.31" r="0.55" fill="#222"/>
<circle cx="362.80" cy="483.85" r="0.55" fill="#222"/>
<line x1="380.50" y1="481.90" x2="380.50" y2="485.60" stroke="#333" stroke-width="0.8"/>
<path d="M378.70,481.90 Q380.50,481.90 380.50,480.10 Q380.50,481.90 382.30,481.90 Q380.50,481.90 380.50,483.70 Q380.50,481.90 378.70,481.90 Z" fill="none" stroke="#222" stroke-width="0.7"/>
<path d="M378.70,481.90 L380.50,480.10 L382.30,481.90 L380.50,483.70 Z" fill="#bbb" stroke="#333" stroke-width="0.6"/>
<path d="M376.40,485.10 L384.60,485.10 Q386.10,485.10 386.10,486.60 L386.10,491.90 Q386.10,493.40 384.60,493.40 L376.40,493.40 Q374.90,493.40 374.90,491.90 L374.90,486.60 Q374.90,485.10 376.40,485.10 Z" fill="#e4e4e4" stroke="#111" stroke-width="1.1" stroke-linejoin="round"/>
<circle cx="378.24" cy="489.91" r="0.55" fill="#222"/>
<circle cx="379.50" cy="486.83" r="0.55" fill="#222"/>
<circle cx="379.69" cy="490.59" r="0.55" fill="#222"/>
<circle cx="379.20" cy="487.88" r="0.55" fill="#222"/>
<circle cx="381.39" cy="487.20" r="0.55" fill="#222"/>
<circle cx="382.00" cy="490.40" r="0.55" fill="#222"/>
<circle cx="379.13" cy="490.44" r="0.55" fill="#222"/>
<circle cx="378.24" cy="489.61" r="0.55" fill="#222"/>
<circle cx="379.90" cy="490.08" r="0.55" fill="#222"/>
<circle cx="378.46" cy="486.52" r="0.55" fill="#222"/>
<circle cx="382.83" cy="489.64" r="0.55" fill="#222"/>
<circle cx="381.46" cy="488.47" r="0.55" fill="#222"/>
<circle cx="382.55" cy="490.33" r="0.55" fill="#222"/>
<circle cx="378.52" cy="490.19" r="0.55" fill="#222"/>
<path d="M415.00,485.30 Q416.08,487.92 421.00,488.50 Q416.08,489.65 415.00,494.90 Q413.92,489.65 409.00,488.50 Q413.92,487.92 415.00,485.30 Z" fill="#e4e4e4" stroke="#111" stroke-width="1.1" stroke-linejoin="round"/>
<circle cx="412.70" cy="485.92" r="0.55" fill="#222"/>
<circle cx="412.65" cy="486.20" r="0.55" fill="#222"/>
<circle cx="416.55" cy="486.09" r="0.55" fill="#222"/>
<circle cx="414.85" cy="490.53" r="0.55" fill="#222"/>
<circle cx="414.37" cy="490.65" r="0.55" fill="#222"/>
<circle cx="415.13" cy="488.01" r="0.55" fill="#222"/>
<circle cx="412.67" cy="488.80" r="0.55" fill="#222"/>
<circle cx="413.92" cy="489.52" r="0.55" fill="#222"/>
<circle cx="413.36" cy="486.20" r="0.55" fill="#222"/>
<circle cx="412.78" cy="489.36" r="0.55" fill="#222"/>
<circle cx="415.69" cy="486.43" r="0.55" fill="#222"/>
<circle cx="416.96" cy="486.16" r="0.55" fill="#222"/>
<circle cx="414.27" cy="486.77" r="0.55" fill="#222"/>
<circle cx="414.99" cy="487.88" r="0.55" fill="#222"/>
<line x1="432.30" y1="466.00" x2="432.30" y2="485.50" stroke="#555" stroke-width="0.9"/>
<circle cx="432.30" cy="466.00" r="0.85" fill="#222"/>
<path d="M432.30,485.00 Q434.82,486.93 437.90,488.50 Q434.82,491.25 432.30,494.60 Q429.78,491.25 426.70,488.50 Q429.78,486.93 432.30,485.00 Z" fill="#e4e4e4" stroke="#111" stroke-width="1.1" stroke-linejoin="round"/>
<circle cx="432.35" cy="488.19" r="0.55" fill="#222"/>
<circle cx="431.28" cy="488.10" r="0.55" fill="#222"/>
<circle cx="431.17" cy="487.38" r="0.55" fill="#222"/>
<circle cx="431.57" cy="490.28" r="0.55" fill="#222"/>
<circle cx="431.97" cy="486.95" r="0.55" fill="#222"/>
<circle cx="432.47" cy="488.96" r="0.55" fill="#222"/>
<circle cx="434.35" cy="490.83" r="0.55" fill="#222"/>
<circle cx="430.90" cy="485.64" r="0.55" fill="#222"/>
<circle cx="431.10" cy="489.88" r="0.55" fill="#222"/>
<circle cx="433.08" cy="488.92" r="0.55" fill="#222"/>
<circle cx="431.24" cy="486.08" r="0.55" fill="#222"/>
<circle cx="434.34" cy="491.22" r="0.55" fill="#222"/>
<circle cx="432.91" cy="486.96" r="0.55" fill="#222"/>
<circle cx="434.63" cy="490.48" r="0.55" fill="#222"/>
<line x1="449.80" y1="482.20" x2="449.80" y2="485.50" stroke="#555" stroke-width="0.9"/>
<circle cx="449.80" cy="482.20" r="0.85" fill="#222"/>
<path d="M449.80,485.00 Q450.74,487.87 455.00,488.50 Q450.74,489.67 449.80,495.00 Q448.86,489.67 444.60,488.50 Q448.86,487.87 449.80,485.00 Z" fill="#e4e4e4" stroke="#111" stroke-width="1.1" stroke-linejoin="round"/>
<circle cx="451.88" cy="488.19" r="0.55" fill="#222"/>
<circle cx="450.69" cy="488.56" r="0.55" fill="#222"/>
<circle cx="451.49" cy="489.93" r="0.55" fill="#222"/>
<circle cx="449.39" cy="487.06" r="0.55" fill="#222"/>
<circle cx="451.51" cy="489.53" r="0.55" fill="#222"/>
<circle cx="449.05" cy="490.53" r="0.55" fill="#222"/>
<circle cx="448.26" cy="487.65" r="0.55" fill="#222"/>
<circle cx="449.98" cy="488.88" r="0.55" fill="#222"/>
<circle cx="447.90" cy="485.93" r="0.55" fill="#222"/>
<circle cx="449.00" cy="485.60" r="0.55" fill="#222"/>
<circle cx="451.39" cy="489.06" r="0.55" fill="#222"/>
<circle cx="449.50" cy="488.05" r="0.55" fill="#222"/>
<circle cx="450.91" cy="491.16" r="0.55" fill="#222"/>
<circle cx="450.06" cy="490.67" r="0.55" fill="#222"/>
<line x1="466.60" y1="473.10" x2="466.60" y2="485.80" stroke="#555" stroke-width="0.9"/>
<circle cx="466.60" cy="473.10" r="0.85" fill="#222"/>
<path d="M466.60,485.30 Q467.64,487.92 472.40,488.50 Q467.64,489.67 466.60,495.00 Q465.56,489.67 460.80,488.50 Q465.56,487.92 466.60,485.30 Z" fill="#e4e4e4" stroke="#111" stroke-width="1.1" stroke-linejoin="round"/>
<circle cx="467.09" cy="489.80" r="0.55" fill="#222"/>
<circle cx="468.53" cy="487.32" r="0.55" fill="#222"/>
<circle cx="465.42" cy="485.71" r="0.55" fill="#222"/>
<circle cx="467.23" cy="487.67" r="0.55" fill="#222"/>
<circle cx="468.10" cy="487.48" r="0.55" fill="#222"/>
<circle cx="467.65" cy="490.40" r="0.55" fill="#222"/>
<circle cx="466.69" cy="485.64" r="0.55" fill="#222"/>
<circle cx="464.56" cy="487.46" r="0.55" fill="#222"/>
<circle cx="466.63" cy="485.63" r="0.55" fill="#222"/>
<circle cx="468.91" cy="487.86" r="0.55" fill="#222"/>
<circle cx="468.28" cy="488.14" r="0.55" fill="#222"/>
<circle cx="465.15" cy="490.47" r="0.55" fill="#222"/>
<circle cx="468.32" cy="489.16" r="0.55" fill="#222"/>
<circle cx="467.87" cy="489.73" r="0.55" fill="#222"/>
<line x1="483.90" y1="474.50" x2="483.90" y2="485.30" stroke="#555" stroke-width="0.9"/>
<circle cx="483.90" cy="474.50" r="0.85" fill="#222"/>
<path d="M483.90,484.80 Q486.51,486.83 489.70,488.50 Q486.51,491.65 483.90,495.50 Q481.29,491.65 478.10,488.50 Q481.29,486.83 483.90,484.80 Z" fill="#e4e4e4" stroke="#111" stroke-width="1.1" stroke-linejoin="round"/>
<circle cx="486.28" cy="490.33" r="0.55" fill="#222"/>
<circle cx="484.34" cy="489.64" r="0.55" fill="#222"/>
<circle cx="481.53" cy="490.81" r="0.55" fill="#222"/>
<circle cx="482.19" cy="488.69" r="0.55" fill="#222"/>
<circle cx="484.42" cy="491.26" r="0.55" fill="#222"/>
<circle cx="483.07" cy="490.98" r="0.55" fill="#222"/>
<circle cx="486.13" cy="490.31" r="0.55" fill="#222"/>
<circle cx="485.31" cy="488.67" r="0.55" fill="#222"/>
<circle cx="481.85" cy="486.08" r="0.55" fill="#222"/>
<circle cx="484.95" cy="490.57" r="0.55" fill="#222"/>
<circle cx="484.99" cy="488.15" r="0.55" fill="#222"/>
<circle cx="485.97" cy="485.29" r="0.55" fill="#222"/>
<circle cx="484.85" cy="485.79" r="0.55" fill="#222"/>
<circle cx="484.66" cy="491.49" r="0.55" fill="#222"/>
<path d="M500.80,484.60 Q503.05,486.75 505.80,488.50 Q503.05,491.25 500.80,494.60 Q498.55,491.25 495.80,488.50 Q498.55,486.75 500.80,484.60 Z" fill="#e4e4e4" stroke="#111" stroke-width="1.1" stroke-linejoin="round"/>
<circle cx="499.84" cy="488.10" r="0.55" fill="#222"/>
<circle cx="498.82" cy="486.26" r="0.55" fill="#222"/>
<circle cx="501.68" cy="486.96" r="0.55" fill="#222"/>
<circle cx="501.39" cy="489.19" r="0.55" fill="#222"/>
<circle cx="501.91" cy="485.77" r="0.55" fill="#222"/>
<circle cx="502.46" cy="488.35" r="0.55" fill="#222"/>
<circle cx="500.37" cy="490.90" r="0.55" fill="#222"/>
<circle cx="499.51" cy="489.06" r="0.55" fill="#222"/>
<circle cx="499.73" cy="486.32" r="0.55" fill="#222"/>
<circle cx="500.88" cy="489.75" r="0.55" fill="#222"/>
<circle cx="499.59" cy="486.03" r="0.55" fill="#222"/>
<circle cx="501.05" cy="487.81" r="0.55" fill="#222"/>
<circle cx="499.75" cy="489.89" r="0.55" fill="#222"/>
<circle cx="501.92" cy="489.67" r="0.55" fill="#222"/>
<rect x="334.70" y="446.50" width="178.20" height="56.10" fill="none" stroke="#444" stroke-width="1.3"/>
<line x1="398.00" y1="446.50" x2="398.00" y2="502.60" stroke="#444" stroke-width="1.3" />
<text x="329.10" y="449.40" font-size="8.2" text-anchor="end" font-weight="normal" font-style="normal" fill="#222" >10</text>
<text x="329.10" y="473.00" font-size="8.2" text-anchor="end" font-weight="normal" font-style="normal" fill="#222" >5</text>
<text x="329.10" y="494.80" font-size="8.2" text-anchor="end" font-weight="normal" font-style="normal" fill="#222" >0</text>
<line x1="331.90" y1="446.50" x2="334.70" y2="446.50" stroke="#222" stroke-width="0.95" />
<line x1="331.90" y1="451.22" x2="334.70" y2="451.22" stroke="#222" stroke-width="0.95" />
<line x1="331.90" y1="455.94" x2="334.70" y2="455.94" stroke="#222" stroke-width="0.95" />
<line x1="331.90" y1="460.66" x2="334.70" y2="460.66" stroke="#222" stroke-width="0.95" />
<line x1="331.90" y1="465.38" x2="334.70" y2="465.38" stroke="#222" stroke-width="0.95" />
<line x1="331.90" y1="470.10" x2="334.70" y2="470.10" stroke="#222" stroke-width="0.95" />
<line x1="331.90" y1="474.82" x2="334.70" y2="474.82" stroke="#222" stroke-width="0.95" />
<line x1="331.90" y1="479.54" x2="334.70" y2="479.54" stroke="#222" stroke-width="0.95" />
<line x1="331.90" y1="484.26" x2="334.70" y2="484.26" stroke="#222" stroke-width="0.95" />
<line x1="331.90" y1="488.98" x2="334.70" y2="488.98" stroke="#222" stroke-width="0.95" />
<line x1="331.90" y1="493.70" x2="334.70" y2="493.70" stroke="#222" stroke-width="0.95" />
<line x1="331.90" y1="498.42" x2="334.70" y2="498.42" stroke="#222" stroke-width="0.95" />
<line x1="346.10" y1="502.60" x2="346.10" y2="505.40" stroke="#222" stroke-width="0.95" />
<line x1="363.20" y1="502.60" x2="363.20" y2="505.40" stroke="#222" stroke-width="0.95" />
<line x1="380.70" y1="502.60" x2="380.70" y2="505.40" stroke="#222" stroke-width="0.95" />
<line x1="415.40" y1="502.60" x2="415.40" y2="505.40" stroke="#222" stroke-width="0.95" />
<line x1="432.30" y1="502.60" x2="432.30" y2="505.40" stroke="#222" stroke-width="0.95" />
<line x1="449.80" y1="502.60" x2="449.80" y2="505.40" stroke="#222" stroke-width="0.95" />
<line x1="466.60" y1="502.60" x2="466.60" y2="505.40" stroke="#222" stroke-width="0.95" />
<line x1="483.90" y1="502.60" x2="483.90" y2="505.40" stroke="#222" stroke-width="0.95" />
<line x1="500.80" y1="502.60" x2="500.80" y2="505.40" stroke="#222" stroke-width="0.95" />
<line x1="398.00" y1="502.60" x2="398.00" y2="505.40" stroke="#222" stroke-width="0.95" />
<text transform="translate(349.30,515.90) rotate(-45)" font-size="8.3" text-anchor="end" fill="#222">BCL-2</text>
<text transform="translate(366.40,515.90) rotate(-45)" font-size="8.3" text-anchor="end" fill="#222">BCL-XL</text>
<text transform="translate(383.90,515.90) rotate(-45)" font-size="8.3" text-anchor="end" fill="#222">MCL-1</text>
<text transform="translate(418.60,515.90) rotate(-45)" font-size="8.3" text-anchor="end" fill="#222">41BB</text>
<text transform="translate(435.50,515.90) rotate(-45)" font-size="8.3" text-anchor="end" fill="#222">CD27</text>
<text transform="translate(453.00,515.90) rotate(-45)" font-size="8.3" text-anchor="end" fill="#222">CTLA-4</text>
<text transform="translate(469.80,515.90) rotate(-45)" font-size="8.3" text-anchor="end" fill="#222">LAG3</text>
<text transform="translate(487.10,515.90) rotate(-45)" font-size="8.3" text-anchor="end" fill="#222">TIM3</text>
<text transform="translate(504.00,515.90) rotate(-45)" font-size="8.3" text-anchor="end" fill="#222">PD-1</text>
<text transform="translate(313.3,475.05) rotate(-90) scale(0.8,1)" font-size="8.3" font-weight="bold" text-anchor="middle" fill="#222">Mean (post/pre)</text>
<text x="423.80" y="548.80" font-size="10" text-anchor="middle" font-weight="normal" font-style="normal" fill="#1a1a1a" >CD8</text>
<text x="366.30" y="561.80" font-size="8.3" text-anchor="middle" font-weight="normal" font-style="normal" fill="#1a1a1a" >Apoptosis</text>
<text x="455.40" y="561.80" font-size="8.3" text-anchor="middle" font-weight="normal" font-style="normal" fill="#1a1a1a" >Checkpoint</text>
<line x1="334.70" y1="609.30" x2="512.90" y2="609.30" stroke="#999" stroke-width="0.7" stroke-dasharray="0.9,1.3"/>
<line x1="346.20" y1="602.10" x2="346.20" y2="606.10" stroke="#333" stroke-width="0.8"/>
<path d="M344.60,602.10 Q346.20,602.10 346.20,600.50 Q346.20,602.10 347.80,602.10 Q346.20,602.10 346.20,603.70 Q346.20,602.10 344.60,602.10 Z" fill="none" stroke="#222" stroke-width="0.7"/>
<path d="M344.60,602.10 L346.20,600.50 L347.80,602.10 L346.20,603.70 Z" fill="#bbb" stroke="#333" stroke-width="0.6"/>
<path d="M346.20,605.60 Q347.24,607.49 352.00,607.90 Q347.24,608.82 346.20,613.00 Q345.16,608.82 340.40,607.90 Q345.16,607.49 346.20,605.60 Z" fill="#3a3a3a" stroke="#111" stroke-width="1.1" stroke-linejoin="round"/>
<circle cx="344.21" cy="606.60" r="0.45" fill="#f2f2f2"/>
<circle cx="348.40" cy="606.22" r="0.45" fill="#f2f2f2"/>
<circle cx="345.97" cy="608.61" r="0.45" fill="#f2f2f2"/>
<circle cx="346.34" cy="608.68" r="0.45" fill="#f2f2f2"/>
<circle cx="344.60" cy="607.01" r="0.45" fill="#f2f2f2"/>
<circle cx="347.27" cy="606.90" r="0.45" fill="#f2f2f2"/>
<line x1="363.30" y1="594.60" x2="363.30" y2="606.10" stroke="#555" stroke-width="0.9"/>
<circle cx="363.30" cy="594.60" r="0.85" fill="#222"/>
<line x1="363.30" y1="601.50" x2="363.30" y2="606.10" stroke="#333" stroke-width="0.8"/>
<path d="M362.10,601.50 Q363.30,601.50 363.30,600.30 Q363.30,601.50 364.50,601.50 Q363.30,601.50 363.30,602.70 Q363.30,601.50 362.10,601.50 Z" fill="none" stroke="#222" stroke-width="0.7"/>
<path d="M362.10,601.50 L363.30,600.30 L364.50,601.50 L363.30,602.70 Z" fill="#bbb" stroke="#333" stroke-width="0.6"/>
<path d="M363.30,605.60 Q364.29,607.98 368.80,608.50 Q364.29,609.42 363.30,613.60 Q362.31,609.42 357.80,608.50 Q362.31,607.98 363.30,605.60 Z" fill="#3a3a3a" stroke="#111" stroke-width="1.1" stroke-linejoin="round"/>
<circle cx="361.75" cy="609.11" r="0.45" fill="#f2f2f2"/>
<circle cx="364.62" cy="610.85" r="0.45" fill="#f2f2f2"/>
<circle cx="361.97" cy="610.60" r="0.45" fill="#f2f2f2"/>
<circle cx="362.97" cy="607.75" r="0.45" fill="#f2f2f2"/>
<circle cx="365.05" cy="607.09" r="0.45" fill="#f2f2f2"/>
<circle cx="363.12" cy="607.82" r="0.45" fill="#f2f2f2"/>
<path d="M375.10,609.50 C375.10,606.70 386.70,606.70 386.70,609.50 C386.70,612.50 375.10,612.50 375.10,609.50 Z" fill="#3a3a3a" stroke="#111" stroke-width="1.1" stroke-linejoin="round"/>
<circle cx="381.82" cy="607.95" r="0.45" fill="#f2f2f2"/>
<circle cx="380.87" cy="608.81" r="0.45" fill="#f2f2f2"/>
<circle cx="381.32" cy="610.53" r="0.45" fill="#f2f2f2"/>
<circle cx="380.07" cy="608.80" r="0.45" fill="#f2f2f2"/>
<circle cx="382.62" cy="610.91" r="0.45" fill="#f2f2f2"/>
<circle cx="383.18" cy="609.96" r="0.45" fill="#f2f2f2"/>
<line x1="415.40" y1="602.00" x2="415.40" y2="605.00" stroke="#555" stroke-width="0.9"/>
<circle cx="415.40" cy="602.00" r="0.85" fill="#222"/>
<path d="M415.40,604.50 Q416.41,608.19 421.00,609.00 Q416.41,609.54 415.40,612.00 Q414.39,609.54 409.80,609.00 Q414.39,608.19 415.40,604.50 Z" fill="#3a3a3a" stroke="#111" stroke-width="1.1" stroke-linejoin="round"/>
<circle cx="413.54" cy="609.63" r="0.45" fill="#f2f2f2"/>
<circle cx="416.72" cy="608.68" r="0.45" fill="#f2f2f2"/>
<circle cx="417.37" cy="608.31" r="0.45" fill="#f2f2f2"/>
<circle cx="416.39" cy="607.63" r="0.45" fill="#f2f2f2"/>
<circle cx="415.85" cy="608.64" r="0.45" fill="#f2f2f2"/>
<circle cx="416.76" cy="609.88" r="0.45" fill="#f2f2f2"/>
<line x1="432.30" y1="602.00" x2="432.30" y2="607.50" stroke="#555" stroke-width="0.9"/>
<circle cx="432.30" cy="602.00" r="0.85" fill="#222"/>
<path d="M432.30,607.00 Q433.16,608.80 437.10,609.20 Q433.16,609.56 432.30,611.20 Q431.44,609.56 427.50,609.20 Q431.44,608.80 432.30,607.00 Z" fill="#3a3a3a" stroke="#111" stroke-width="1.1" stroke-linejoin="round"/>
<circle cx="431.83" cy="608.20" r="0.45" fill="#f2f2f2"/>
<circle cx="432.71" cy="609.03" r="0.45" fill="#f2f2f2"/>
<circle cx="433.35" cy="610.28" r="0.45" fill="#f2f2f2"/>
<circle cx="431.44" cy="608.81" r="0.45" fill="#f2f2f2"/>
<circle cx="433.07" cy="608.26" r="0.45" fill="#f2f2f2"/>
<circle cx="432.81" cy="609.00" r="0.45" fill="#f2f2f2"/>
<line x1="449.80" y1="600.40" x2="449.80" y2="607.30" stroke="#555" stroke-width="0.9"/>
<circle cx="449.80" cy="600.40" r="0.85" fill="#222"/>
<path d="M449.80,606.80 Q450.63,608.77 454.40,609.20 Q450.63,609.63 449.80,611.60 Q448.97,609.63 445.20,609.20 Q448.97,608.77 449.80,606.80 Z" fill="#3a3a3a" stroke="#111" stroke-width="1.1" stroke-linejoin="round"/>
<circle cx="449.39" cy="609.20" r="0.45" fill="#f2f2f2"/>
<circle cx="450.85" cy="609.62" r="0.45" fill="#f2f2f2"/>
<circle cx="448.35" cy="608.92" r="0.45" fill="#f2f2f2"/>
<circle cx="450.66" cy="608.14" r="0.45" fill="#f2f2f2"/>
<circle cx="450.85" cy="609.98" r="0.45" fill="#f2f2f2"/>
<circle cx="450.28" cy="609.80" r="0.45" fill="#f2f2f2"/>
<path d="M461.80,609.20 C461.80,607.60 471.40,607.60 471.40,609.20 C471.40,611.00 461.80,611.00 461.80,609.20 Z" fill="#3a3a3a" stroke="#111" stroke-width="1.1" stroke-linejoin="round"/>
<circle cx="467.79" cy="609.74" r="0.45" fill="#f2f2f2"/>
<circle cx="466.10" cy="608.94" r="0.45" fill="#f2f2f2"/>
<circle cx="467.67" cy="608.29" r="0.45" fill="#f2f2f2"/>
<circle cx="466.42" cy="609.60" r="0.45" fill="#f2f2f2"/>
<circle cx="468.55" cy="609.90" r="0.45" fill="#f2f2f2"/>
<circle cx="466.45" cy="608.83" r="0.45" fill="#f2f2f2"/>
<line x1="483.90" y1="574.40" x2="483.90" y2="607.50" stroke="#888" stroke-width="0.9"/>
<circle cx="483.90" cy="574.40" r="0.85" fill="#222"/>
<path d="M483.90,607.00 Q484.80,608.80 488.90,609.20 Q484.80,609.67 483.90,611.80 Q483.00,609.67 478.90,609.20 Q483.00,608.80 483.90,607.00 Z" fill="#3a3a3a" stroke="#111" stroke-width="1.1" stroke-linejoin="round"/>
<circle cx="482.79" cy="610.35" r="0.45" fill="#f2f2f2"/>
<circle cx="484.94" cy="608.55" r="0.45" fill="#f2f2f2"/>
<circle cx="482.85" cy="610.15" r="0.45" fill="#f2f2f2"/>
<circle cx="483.68" cy="609.96" r="0.45" fill="#f2f2f2"/>
<circle cx="484.48" cy="608.69" r="0.45" fill="#f2f2f2"/>
<circle cx="482.71" cy="610.58" r="0.45" fill="#f2f2f2"/>
<line x1="500.80" y1="599.70" x2="500.80" y2="607.00" stroke="#555" stroke-width="0.9"/>
<circle cx="500.80" cy="599.70" r="0.85" fill="#222"/>
<path d="M500.80,606.50 Q501.63,608.71 505.40,609.20 Q501.63,609.67 500.80,611.80 Q499.97,609.67 496.20,609.20 Q499.97,608.71 500.80,606.50 Z" fill="#3a3a3a" stroke="#111" stroke-width="1.1" stroke-linejoin="round"/>
<circle cx="499.43" cy="607.65" r="0.45" fill="#f2f2f2"/>
<circle cx="500.24" cy="608.43" r="0.45" fill="#f2f2f2"/>
<circle cx="501.96" cy="608.47" r="0.45" fill="#f2f2f2"/>
<circle cx="500.68" cy="610.66" r="0.45" fill="#f2f2f2"/>
<circle cx="501.50" cy="608.61" r="0.45" fill="#f2f2f2"/>
<circle cx="500.48" cy="608.63" r="0.45" fill="#f2f2f2"/>
<rect x="334.70" y="566.80" width="178.20" height="55.80" fill="none" stroke="#444" stroke-width="1.3"/>
<line x1="398.00" y1="566.80" x2="398.00" y2="622.60" stroke="#444" stroke-width="1.3" />
<text x="329.10" y="569.80" font-size="8.2" text-anchor="end" font-weight="normal" font-style="normal" fill="#222" >20</text>
<text x="329.10" y="581.10" font-size="8.2" text-anchor="end" font-weight="normal" font-style="normal" fill="#222" >15</text>
<text x="329.10" y="591.90" font-size="8.2" text-anchor="end" font-weight="normal" font-style="normal" fill="#222" >10</text>
<text x="329.10" y="603.20" font-size="8.2" text-anchor="end" font-weight="normal" font-style="normal" fill="#222" >5</text>
<text x="329.10" y="614.10" font-size="8.2" text-anchor="end" font-weight="normal" font-style="normal" fill="#222" >0</text>
<text x="329.10" y="625.20" font-size="8.2" text-anchor="end" font-weight="normal" font-style="normal" fill="#222" >−5</text>
<line x1="331.90" y1="566.90" x2="334.70" y2="566.90" stroke="#222" stroke-width="0.95" />
<line x1="331.90" y1="578.20" x2="334.70" y2="578.20" stroke="#222" stroke-width="0.95" />
<line x1="331.90" y1="589.00" x2="334.70" y2="589.00" stroke="#222" stroke-width="0.95" />
<line x1="331.90" y1="600.30" x2="334.70" y2="600.30" stroke="#222" stroke-width="0.95" />
<line x1="331.90" y1="609.30" x2="334.70" y2="609.30" stroke="#222" stroke-width="0.95" />
<line x1="331.90" y1="610.60" x2="334.70" y2="610.60" stroke="#222" stroke-width="0.95" />
<line x1="331.90" y1="612.10" x2="334.70" y2="612.10" stroke="#222" stroke-width="0.95" />
<line x1="346.10" y1="622.60" x2="346.10" y2="625.40" stroke="#222" stroke-width="0.95" />
<line x1="363.20" y1="622.60" x2="363.20" y2="625.40" stroke="#222" stroke-width="0.95" />
<line x1="380.70" y1="622.60" x2="380.70" y2="625.40" stroke="#222" stroke-width="0.95" />
<line x1="415.40" y1="622.60" x2="415.40" y2="625.40" stroke="#222" stroke-width="0.95" />
<line x1="432.30" y1="622.60" x2="432.30" y2="625.40" stroke="#222" stroke-width="0.95" />
<line x1="449.80" y1="622.60" x2="449.80" y2="625.40" stroke="#222" stroke-width="0.95" />
<line x1="466.60" y1="622.60" x2="466.60" y2="625.40" stroke="#222" stroke-width="0.95" />
<line x1="483.90" y1="622.60" x2="483.90" y2="625.40" stroke="#222" stroke-width="0.95" />
<line x1="500.80" y1="622.60" x2="500.80" y2="625.40" stroke="#222" stroke-width="0.95" />
<line x1="398.00" y1="622.60" x2="398.00" y2="625.40" stroke="#222" stroke-width="0.95" />
<text transform="translate(349.30,635.90) rotate(-45)" font-size="8.3" text-anchor="end" fill="#222">BCL-2</text>
<text transform="translate(366.40,635.90) rotate(-45)" font-size="8.3" text-anchor="end" fill="#222">BCL-XL</text>
<text transform="translate(383.90,635.90) rotate(-45)" font-size="8.3" text-anchor="end" fill="#222">MCL-1</text>
<text transform="translate(418.60,635.90) rotate(-45)" font-size="8.3" text-anchor="end" fill="#222">41BB</text>
<text transform="translate(435.50,635.90) rotate(-45)" font-size="8.3" text-anchor="end" fill="#222">CD27</text>
<text transform="translate(453.00,635.90) rotate(-45)" font-size="8.3" text-anchor="end" fill="#222">CTLA-4</text>
<text transform="translate(469.80,635.90) rotate(-45)" font-size="8.3" text-anchor="end" fill="#222">LAG3</text>
<text transform="translate(487.10,635.90) rotate(-45)" font-size="8.3" text-anchor="end" fill="#222">TIM3</text>
<text transform="translate(504.00,635.90) rotate(-45)" font-size="8.3" text-anchor="end" fill="#222">PD-1</text>
<text transform="translate(313.3,595.20) rotate(-90) scale(0.8,1)" font-size="8.3" font-weight="bold" text-anchor="middle" fill="#222">Mean (post/pre)</text>
<rect x="0" y="0" width="520" height="664" fill="none" stroke="#5a5a5a" stroke-width="2.6"/>
</svg>
</body></html>
